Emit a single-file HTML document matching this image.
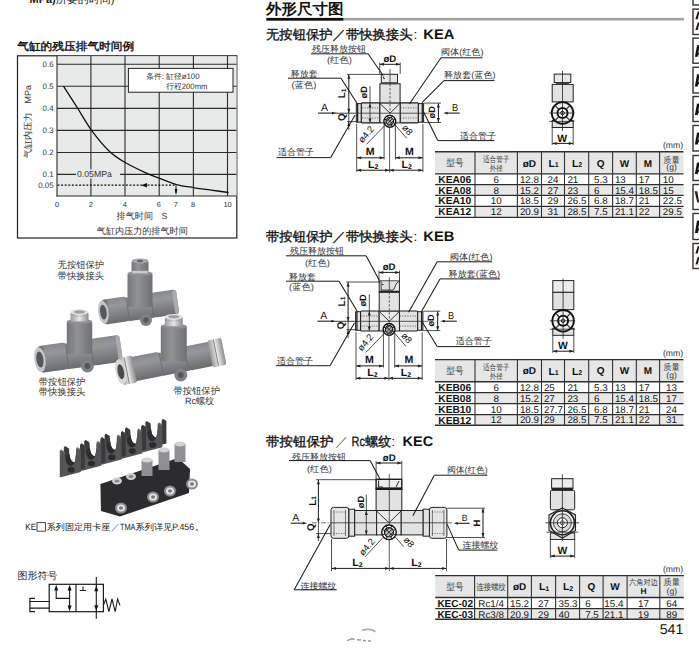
<!DOCTYPE html>
<html><head><meta charset="utf-8"><style>
html,body{margin:0;padding:0;background:#fff;}
body{width:699px;height:656px;overflow:hidden;position:relative;}
svg{position:absolute;left:0;top:0;font-family:"Liberation Sans", sans-serif;text-rendering:geometricPrecision;}
</style></head><body>
<svg width="699" height="656" viewBox="0 0 699 656">
<text x="29.5" y="2.7" font-size="11" fill="#222"><tspan font-weight="bold">MPa)</tspan>所要的时间)</text>
<text x="17.2" y="50.2" font-size="11" text-anchor="start" font-weight="bold" fill="#1a1a1a"  textLength="117" lengthAdjust="spacingAndGlyphs">气缸的残压排气时间例</text>
<rect x="17.5" y="55.8" width="219.3" height="182.2" fill="#fff" stroke="#222" stroke-width="1.2"/>
<rect x="57" y="56.3" width="179.6" height="139.7" fill="#e8eae9"/>
<line x1="57" y1="64.3" x2="236.5" y2="64.3" stroke="#2a2a2a" stroke-width="1.1" />
<line x1="57" y1="86.3" x2="236.5" y2="86.3" stroke="#2a2a2a" stroke-width="1.1" />
<line x1="57" y1="108.4" x2="236.5" y2="108.4" stroke="#2a2a2a" stroke-width="1.1" />
<line x1="57" y1="130.4" x2="236.5" y2="130.4" stroke="#2a2a2a" stroke-width="1.1" />
<line x1="57" y1="152.5" x2="236.5" y2="152.5" stroke="#2a2a2a" stroke-width="1.1" />
<line x1="57" y1="174.4" x2="236.5" y2="174.4" stroke="#2a2a2a" stroke-width="1.1" />
<line x1="90.9" y1="56" x2="90.9" y2="196" stroke="#2a2a2a" stroke-width="1.1" />
<line x1="125" y1="56" x2="125" y2="196" stroke="#2a2a2a" stroke-width="1.1" />
<line x1="159.2" y1="56" x2="159.2" y2="196" stroke="#2a2a2a" stroke-width="1.1" />
<line x1="193.4" y1="56" x2="193.4" y2="196" stroke="#2a2a2a" stroke-width="1.1" />
<line x1="227.5" y1="56" x2="227.5" y2="196" stroke="#2a2a2a" stroke-width="1.1" />
<line x1="57" y1="56" x2="57" y2="196.5" stroke="#2a2a2a" stroke-width="1.1" />
<line x1="56.5" y1="196" x2="236.5" y2="196" stroke="#2a2a2a" stroke-width="1.1" />
<text x="53.6" y="67.1" font-size="7.9" text-anchor="end" font-weight="normal" fill="#333" >0.6</text>
<text x="53.6" y="89.1" font-size="7.9" text-anchor="end" font-weight="normal" fill="#333" >0.5</text>
<text x="53.6" y="111.2" font-size="7.9" text-anchor="end" font-weight="normal" fill="#333" >0.4</text>
<text x="53.6" y="133.20000000000002" font-size="7.9" text-anchor="end" font-weight="normal" fill="#333" >0.3</text>
<text x="53.6" y="155.3" font-size="7.9" text-anchor="end" font-weight="normal" fill="#333" >0.2</text>
<text x="53.6" y="177.20000000000002" font-size="7.9" text-anchor="end" font-weight="normal" fill="#333" >0.1</text>
<text x="53.6" y="187.8" font-size="7.9" text-anchor="end" font-weight="normal" fill="#333" >0.05</text>
<text x="57" y="207.2" font-size="7.4" text-anchor="middle" font-weight="normal" fill="#333" >0</text>
<text x="90.8" y="207.2" font-size="7.4" text-anchor="middle" font-weight="normal" fill="#333" >2</text>
<text x="124.8" y="207.2" font-size="7.4" text-anchor="middle" font-weight="normal" fill="#333" >4</text>
<text x="158.8" y="207.2" font-size="7.4" text-anchor="middle" font-weight="normal" fill="#333" >6</text>
<text x="175.8" y="207.2" font-size="7.4" text-anchor="middle" font-weight="normal" fill="#333" >7</text>
<text x="193" y="207.2" font-size="7.4" text-anchor="middle" font-weight="normal" fill="#333" >8</text>
<text x="227.5" y="207.2" font-size="7.4" text-anchor="middle" font-weight="normal" fill="#333" >10</text>
<text x="116.6" y="219" font-size="9.1" text-anchor="start" font-weight="normal" fill="#333" >排气时间</text>
<text x="161.6" y="219" font-size="8.8" text-anchor="start" font-weight="normal" fill="#333" >S</text>
<text x="96.8" y="234.2" font-size="9.1" text-anchor="start" font-weight="normal" fill="#333" >气缸内压力的排气时间</text>
<text transform="translate(31.4,158.3) rotate(-90) scale(0.5)" font-size="18.4" fill="#333">气缸内压力<tspan dx="17.5" font-size="18">MPa</tspan></text>
<rect x="76" y="169.5" width="44" height="9" fill="#e8eae9"/>
<text x="77" y="177.4" font-size="8.7" text-anchor="start" font-weight="normal" fill="#333" >0.05MPa</text>
<line x1="57.5" y1="185.2" x2="176" y2="185.2" stroke="#111" stroke-width="1.3" stroke-dasharray="2 1.6"/>
<path d="M141.3 185.2 L147 183 L147 187.4 Z" fill="#111"/>
<line x1="176" y1="185.5" x2="176" y2="193" stroke="#111" stroke-width="1" />
<path d="M176 195.2 L174.6 189 L177.4 189 Z" fill="#111"/>
<path d="M63.5 86.2 C65.8 89.8 72.9 100.7 77.5 108 C82.1 115.3 86.0 122.7 91.2 129.9 C96.5 137.1 103.4 145.6 109 151 C114.6 156.4 118.7 158.7 124.8 162.3 C130.9 166.0 140.1 170.3 145.8 172.9 C151.5 175.5 153.9 176.2 159 178.1 C164.1 180.0 170.8 183.0 176.5 184.6 C182.2 186.2 187.8 186.7 193.5 187.6 C199.2 188.5 205.2 189.3 211 190.1 C216.8 190.9 225.7 192.1 228.6 192.5" fill="none" stroke="#111" stroke-width="1.3"/>
<rect x="128.4" y="68.4" width="104.6" height="23.8" fill="#fff" stroke="#222" stroke-width="1"/>
<text x="146.2" y="79" font-size="7.9" text-anchor="start" font-weight="normal" fill="#333"  textLength="53.3" lengthAdjust="spacingAndGlyphs">条件: 缸径ø100</text>
<text x="166.3" y="88.5" font-size="7.9" text-anchor="start" font-weight="normal" fill="#333"  textLength="41.2" lengthAdjust="spacingAndGlyphs">行程200mm</text>
<defs>
<linearGradient id="gv" x1="0" x2="1" y1="0" y2="0"><stop offset="0" stop-color="#75777b"/><stop offset="0.4" stop-color="#909296"/><stop offset="1" stop-color="#6e7074"/></linearGradient>
<linearGradient id="gh" x1="0" x2="0" y1="0" y2="1"><stop offset="0" stop-color="#86888c"/><stop offset="0.3" stop-color="#95979b"/><stop offset="1" stop-color="#6a6c70"/></linearGradient>
<linearGradient id="gs" x1="0" x2="1" y1="0" y2="0"><stop offset="0" stop-color="#9a9a9a"/><stop offset="0.5" stop-color="#e8e8e8"/><stop offset="1" stop-color="#8a8a8a"/></linearGradient>
</defs>
<g transform="translate(140,307) rotate(-8)">
<rect x="-13.5" y="-11.0" width="27" height="23.5" fill="url(#gh)"/>
<rect x="-38" y="-12.5" width="26.0" height="25.0" rx="3.5" fill="url(#gh)"/>
<rect x="12.0" y="-12.5" width="26.0" height="25.0" rx="3.5" fill="url(#gh)"/>
<line x1="-12.3" y1="-11.5" x2="-12.3" y2="11.5" stroke="#6a6c70" stroke-width="0.8"/>
<line x1="12.3" y1="-11.5" x2="12.3" y2="11.5" stroke="#6a6c70" stroke-width="0.8"/>
<rect x="-37" y="-12.0" width="5" height="24.0" rx="2" fill="#6d6f73"/>
<ellipse cx="-37" cy="0" rx="5.25" ry="11.5" fill="#c4c6c9"/>
<ellipse cx="-37" cy="0" rx="3.25" ry="7.5" fill="#55575b"/>
<rect x="34" y="-12.0" width="4" height="24.0" rx="1.8" fill="#a9abae"/>
</g>
<rect x="127.5" y="273" width="25" height="34" rx="2" fill="url(#gv)"/>
<ellipse cx="140" cy="273.5" rx="12.5" ry="2.5" fill="#8e9094"/>
<rect x="131.5" y="261" width="17" height="12" rx="1.5" fill="url(#gv)"/>
<ellipse cx="140" cy="261" rx="8.5" ry="2.5" fill="#a3a5a8"/>
<ellipse cx="140" cy="261" rx="3" ry="1.2" fill="#666"/>
<rect x="132" y="270.8" width="16" height="2.6" fill="#c9c9c9"/>
<circle cx="146" cy="320" r="6" fill="#7e8084"/>
<circle cx="146" cy="320" r="2.7" fill="#55575b"/>
<g transform="translate(79.5,354) rotate(-8)">
<rect x="-13.75" y="-12.0" width="27.5" height="25.5" fill="url(#gh)"/>
<rect x="-41" y="-13.5" width="28.75" height="27.0" rx="3.5" fill="url(#gh)"/>
<rect x="12.25" y="-13.5" width="29.75" height="27.0" rx="3.5" fill="url(#gh)"/>
<line x1="-12.55" y1="-12.5" x2="-12.55" y2="12.5" stroke="#6a6c70" stroke-width="0.8"/>
<line x1="12.55" y1="-12.5" x2="12.55" y2="12.5" stroke="#6a6c70" stroke-width="0.8"/>
<rect x="-40" y="-13.0" width="5" height="26.0" rx="2" fill="#6d6f73"/>
<ellipse cx="-40" cy="0" rx="5.67" ry="12.5" fill="#c4c6c9"/>
<ellipse cx="-40" cy="0" rx="3.5100000000000002" ry="8.1" fill="#55575b"/>
<rect x="38" y="-13.0" width="4" height="26.0" rx="1.8" fill="#a9abae"/>
</g>
<rect x="66.75" y="321" width="25.5" height="33" rx="2" fill="url(#gv)"/>
<ellipse cx="79.5" cy="321.5" rx="12.75" ry="2.5" fill="#8e9094"/>
<rect x="70.5" y="312" width="18" height="9.5" rx="2" fill="url(#gs)"/>
<ellipse cx="79.5" cy="312" rx="9" ry="2.8" fill="#e4e4e4"/>
<ellipse cx="79.5" cy="312" rx="5.5" ry="1.7" fill="#a0a0a0"/>
<line x1="73.5" y1="316" x2="85.5" y2="316" stroke="#888" stroke-width="0.7" stroke-dasharray="1 1"/>
<circle cx="87.5" cy="366" r="6.5" fill="#7e8084"/>
<circle cx="87.5" cy="366" r="2.9250000000000003" fill="#55575b"/>
<g transform="translate(173.8,361.2) rotate(-11.2)">
<rect x="-14.0" y="-10.8" width="28" height="23.1" fill="url(#gh)"/>
<rect x="-51" y="-12.3" width="38.5" height="24.6" rx="3.5" fill="url(#gh)"/>
<rect x="12.5" y="-12.3" width="36.5" height="24.6" rx="3.5" fill="url(#gh)"/>
<line x1="-12.8" y1="-11.3" x2="-12.8" y2="11.3" stroke="#6a6c70" stroke-width="0.8"/>
<line x1="12.8" y1="-11.3" x2="12.8" y2="11.3" stroke="#6a6c70" stroke-width="0.8"/>
<rect x="-54" y="-13.8" width="14" height="27.6" rx="2" fill="url(#gs)"/>
<line x1="-48" y1="-13.3" x2="-48" y2="13.3" stroke="#777" stroke-width="0.8"/>
<ellipse cx="-54" cy="0" rx="5.166" ry="12.8" fill="#d8d8d8"/>
<ellipse cx="-54" cy="0" rx="3.1980000000000004" ry="7.626" fill="#4a4a4a"/>
<rect x="37" y="-13.8" width="14" height="27.6" rx="2" fill="url(#gs)"/>
<line x1="43" y1="-13.3" x2="43" y2="13.3" stroke="#777" stroke-width="0.8"/>
</g>
<rect x="160.8" y="325.7" width="26" height="35.5" rx="2" fill="url(#gv)"/>
<ellipse cx="173.8" cy="326.2" rx="13.0" ry="2.5" fill="#8e9094"/>
<rect x="164.8" y="316.7" width="18" height="9.5" rx="2" fill="url(#gs)"/>
<ellipse cx="173.8" cy="316.7" rx="9" ry="2.8" fill="#e4e4e4"/>
<ellipse cx="173.8" cy="316.7" rx="5.5" ry="1.7" fill="#a0a0a0"/>
<line x1="167.8" y1="320.7" x2="179.8" y2="320.7" stroke="#888" stroke-width="0.7" stroke-dasharray="1 1"/>
<circle cx="180.8" cy="375.0" r="6.5" fill="#7e8084"/>
<circle cx="180.8" cy="375.0" r="2.9250000000000003" fill="#55575b"/>
<text x="57.6" y="268.2" font-size="9.4" text-anchor="start" font-weight="normal" fill="#333"  textLength="46.6" lengthAdjust="spacingAndGlyphs">无按钮保护</text>
<text x="57.6" y="279.3" font-size="9.4" text-anchor="start" font-weight="normal" fill="#333"  textLength="46.6" lengthAdjust="spacingAndGlyphs">带快换接头</text>
<text x="38.8" y="385.4" font-size="9.4" text-anchor="start" font-weight="normal" fill="#333"  textLength="46.6" lengthAdjust="spacingAndGlyphs">带按钮保护</text>
<text x="38.8" y="394.8" font-size="9.4" text-anchor="start" font-weight="normal" fill="#333"  textLength="46.6" lengthAdjust="spacingAndGlyphs">带快换接头</text>
<text x="173.4" y="393.6" font-size="9.4" text-anchor="start" font-weight="normal" fill="#333"  textLength="46.6" lengthAdjust="spacingAndGlyphs">带按钮保护</text>
<text x="185" y="403.6" font-size="9.1" text-anchor="start" font-weight="normal" fill="#333" >Rc螺纹</text>
<path d="M141.39999999999998 452.7 L141.39999999999998 426.2 L142.59999999999997 424.7 L146.59999999999997 427.2 L146.99999999999997 432.7 Q147.89999999999998 441.7 152.89999999999998 441.2 Q156.89999999999998 440.2 157.39999999999998 430.7 L157.7 424.2 L158.99999999999997 422.4 L162.39999999999998 424.7 L162.39999999999998 447.2 Z" transform="translate(4,-3.6)" fill="#3a3a3c"/>
<path d="M146.99999999999997 432.7 Q147.89999999999998 441.7 152.89999999999998 441.2 Q156.89999999999998 440.2 157.39999999999998 430.7 L161.39999999999998 427.09999999999997 Q160.89999999999998 436.7 156.89999999999998 437.7 Q151.89999999999998 438.09999999999997 150.99999999999997 429.09999999999997 Z" fill="#2c2c2e"/>
<path d="M141.39999999999998 452.7 L141.39999999999998 426.2 L142.59999999999997 424.7 L146.59999999999997 427.2 L146.99999999999997 432.7 Q147.89999999999998 441.7 152.89999999999998 441.2 Q156.89999999999998 440.2 157.39999999999998 430.7 L157.7 424.2 L158.99999999999997 422.4 L162.39999999999998 424.7 L162.39999999999998 447.2 Z" fill="#555557"/>
<ellipse cx="152.7" cy="444.9" rx="3.6" ry="2.8" fill="#2a2a2c"/>
<path d="M141.99999999999997 425.7 L146.39999999999998 428.09999999999997 M158.2 423.2 L161.89999999999998 425.4" stroke="#77777a" stroke-width="1"/>
<path d="M121.0 458.9 L121.0 432.4 L122.2 430.9 L126.2 433.4 L126.6 438.9 Q127.5 447.9 132.5 447.4 Q136.5 446.4 137.0 436.9 L137.3 430.4 L138.6 428.59999999999997 L142.0 430.9 L142.0 453.4 Z" transform="translate(4,-3.6)" fill="#3a3a3c"/>
<path d="M126.6 438.9 Q127.5 447.9 132.5 447.4 Q136.5 446.4 137.0 436.9 L141.0 433.29999999999995 Q140.5 442.9 136.5 443.9 Q131.5 444.29999999999995 130.6 435.29999999999995 Z" fill="#2c2c2e"/>
<path d="M121.0 458.9 L121.0 432.4 L122.2 430.9 L126.2 433.4 L126.6 438.9 Q127.5 447.9 132.5 447.4 Q136.5 446.4 137.0 436.9 L137.3 430.4 L138.6 428.59999999999997 L142.0 430.9 L142.0 453.4 Z" fill="#555557"/>
<ellipse cx="132.3" cy="451.09999999999997" rx="3.6" ry="2.8" fill="#2a2a2c"/>
<path d="M121.6 431.9 L126.0 434.29999999999995 M137.8 429.4 L141.5 431.59999999999997" stroke="#77777a" stroke-width="1"/>
<path d="M100.6 465.1 L100.6 438.6 L101.8 437.1 L105.8 439.6 L106.19999999999999 445.1 Q107.1 454.1 112.1 453.6 Q116.1 452.6 116.6 443.1 L116.89999999999999 436.6 L118.19999999999999 434.8 L121.6 437.1 L121.6 459.6 Z" transform="translate(4,-3.6)" fill="#3a3a3c"/>
<path d="M106.19999999999999 445.1 Q107.1 454.1 112.1 453.6 Q116.1 452.6 116.6 443.1 L120.6 439.5 Q120.1 449.1 116.1 450.1 Q111.1 450.5 110.19999999999999 441.5 Z" fill="#2c2c2e"/>
<path d="M100.6 465.1 L100.6 438.6 L101.8 437.1 L105.8 439.6 L106.19999999999999 445.1 Q107.1 454.1 112.1 453.6 Q116.1 452.6 116.6 443.1 L116.89999999999999 436.6 L118.19999999999999 434.8 L121.6 437.1 L121.6 459.6 Z" fill="#555557"/>
<ellipse cx="111.89999999999999" cy="457.3" rx="3.6" ry="2.8" fill="#2a2a2c"/>
<path d="M101.19999999999999 438.1 L105.6 440.5 M117.39999999999999 435.6 L121.1 437.8" stroke="#77777a" stroke-width="1"/>
<path d="M80.19999999999999 471.3 L80.19999999999999 444.8 L81.39999999999999 443.3 L85.39999999999999 445.8 L85.79999999999998 451.3 Q86.69999999999999 460.3 91.69999999999999 459.8 Q95.69999999999999 458.8 96.19999999999999 449.3 L96.49999999999999 442.8 L97.79999999999998 441.0 L101.19999999999999 443.3 L101.19999999999999 465.8 Z" transform="translate(4,-3.6)" fill="#3a3a3c"/>
<path d="M85.79999999999998 451.3 Q86.69999999999999 460.3 91.69999999999999 459.8 Q95.69999999999999 458.8 96.19999999999999 449.3 L100.19999999999999 445.7 Q99.69999999999999 455.3 95.69999999999999 456.3 Q90.69999999999999 456.7 89.79999999999998 447.7 Z" fill="#2c2c2e"/>
<path d="M80.19999999999999 471.3 L80.19999999999999 444.8 L81.39999999999999 443.3 L85.39999999999999 445.8 L85.79999999999998 451.3 Q86.69999999999999 460.3 91.69999999999999 459.8 Q95.69999999999999 458.8 96.19999999999999 449.3 L96.49999999999999 442.8 L97.79999999999998 441.0 L101.19999999999999 443.3 L101.19999999999999 465.8 Z" fill="#555557"/>
<ellipse cx="91.49999999999999" cy="463.5" rx="3.6" ry="2.8" fill="#2a2a2c"/>
<path d="M80.79999999999998 444.3 L85.19999999999999 446.7 M96.99999999999999 441.8 L100.69999999999999 444.0" stroke="#77777a" stroke-width="1"/>
<path d="M59.8 477.5 L59.8 451.0 L61.0 449.5 L65.0 452.0 L65.39999999999999 457.5 Q66.3 466.5 71.3 466.0 Q75.3 465.0 75.8 455.5 L76.1 449.0 L77.4 447.2 L80.8 449.5 L80.8 472.0 Z" transform="translate(4,-3.6)" fill="#3a3a3c"/>
<path d="M65.39999999999999 457.5 Q66.3 466.5 71.3 466.0 Q75.3 465.0 75.8 455.5 L79.8 451.9 Q79.3 461.5 75.3 462.5 Q70.3 462.9 69.39999999999999 453.9 Z" fill="#2c2c2e"/>
<path d="M59.8 477.5 L59.8 451.0 L61.0 449.5 L65.0 452.0 L65.39999999999999 457.5 Q66.3 466.5 71.3 466.0 Q75.3 465.0 75.8 455.5 L76.1 449.0 L77.4 447.2 L80.8 449.5 L80.8 472.0 Z" fill="#555557"/>
<ellipse cx="71.1" cy="469.7" rx="3.6" ry="2.8" fill="#2a2a2c"/>
<path d="M60.4 450.5 L64.8 452.9 M76.6 448.0 L80.3 450.2" stroke="#77777a" stroke-width="1"/>
<path d="M100.4 484 L178 458 L190 469 L189 493 L120 516.5 L101 511 Z" fill="#2c2c2e"/>
<ellipse cx="117" cy="481" rx="5" ry="3.5" fill="#cfd0d2"/><ellipse cx="117" cy="481" rx="2.5" ry="1.6" fill="#888"/>
<ellipse cx="131" cy="476.5" rx="5" ry="3.5" fill="#cfd0d2"/><ellipse cx="131" cy="476.5" rx="2.5" ry="1.6" fill="#888"/>
<rect x="141.5" y="460" width="11" height="16" fill="#8e9094"/><ellipse cx="147" cy="460" rx="5.5" ry="2.5" fill="#d2d3d5"/>
<rect x="158.5" y="450" width="11" height="20" fill="#8e9094"/><ellipse cx="164" cy="450" rx="5.5" ry="2.5" fill="#d2d3d5"/>
<rect x="174.5" y="444" width="11" height="18" fill="#8e9094"/><ellipse cx="180" cy="444" rx="5.5" ry="2.5" fill="#d2d3d5"/>
<ellipse cx="121" cy="508" rx="6" ry="5.5" fill="#8a8c90"/><ellipse cx="121" cy="508" rx="4" ry="3.6" fill="#e4e4e4"/><ellipse cx="121" cy="508" rx="2" ry="1.8" fill="#777"/>
<ellipse cx="153" cy="497" rx="6" ry="5.5" fill="#8a8c90"/><ellipse cx="153" cy="497" rx="4" ry="3.6" fill="#e4e4e4"/><ellipse cx="153" cy="497" rx="2" ry="1.8" fill="#777"/>
<ellipse cx="170" cy="491" rx="6" ry="5.5" fill="#8a8c90"/><ellipse cx="170" cy="491" rx="4" ry="3.6" fill="#e4e4e4"/><ellipse cx="170" cy="491" rx="2" ry="1.8" fill="#777"/>
<ellipse cx="192" cy="484" rx="6" ry="5.5" fill="#8a8c90"/><ellipse cx="192" cy="484" rx="4" ry="3.6" fill="#e4e4e4"/><ellipse cx="192" cy="484" rx="2" ry="1.8" fill="#777"/>
<text x="25.2" y="530.4" font-size="9.2" text-anchor="start" font-weight="normal" fill="#222"  textLength="11" lengthAdjust="spacingAndGlyphs">KE</text>
<rect x="37" y="522.6" width="8.4" height="8.6" fill="none" stroke="#333" stroke-width="0.9"/>
<text x="46.8" y="530.4" font-size="9" text-anchor="start" font-weight="normal" fill="#222"  textLength="63.5" lengthAdjust="spacingAndGlyphs">系列固定用卡座</text>
<text x="111" y="530.4" font-size="9" text-anchor="start" font-weight="normal" fill="#444" >／</text>
<text x="120" y="530.4" font-size="9.2" text-anchor="start" font-weight="normal" fill="#222"  textLength="15.5" lengthAdjust="spacingAndGlyphs">TMA</text>
<text x="135.6" y="530.4" font-size="9" text-anchor="start" font-weight="normal" fill="#222"  textLength="36.8" lengthAdjust="spacingAndGlyphs">系列详见</text>
<text x="172.3" y="530.4" font-size="9.2" text-anchor="start" font-weight="normal" fill="#222"  textLength="21.8" lengthAdjust="spacingAndGlyphs">P.456</text>
<text x="195" y="530.4" font-size="9" text-anchor="start" font-weight="normal" fill="#222" >。</text>
<text x="17.6" y="579.4" font-size="10" text-anchor="start" font-weight="normal" fill="#222"  textLength="40" lengthAdjust="spacingAndGlyphs">图形符号</text>
<rect x="49.2" y="584.3" width="54.2" height="27.4" stroke="#1a1a1a" stroke-width="1.2" fill="none"/>
<line x1="76" y1="584.3" x2="76" y2="611.7" stroke="#1a1a1a" stroke-width="1.2" />
<path d="M35 598.3 L29.9 598.3 L29.9 611.7 L35 611.7" stroke="#1a1a1a" stroke-width="1.2" fill="none"/>
<path d="M49.2 601.5 L29.9 601.5 M29.9 608.2 L49.2 608.2" stroke="#1a1a1a" stroke-width="1.2" fill="none"/>
<line x1="69.6" y1="589" x2="69.6" y2="607" stroke="#1a1a1a" stroke-width="1.1" />
<path d="M69.6 584.8 L67.6 590.6 L71.6 590.6 Z M69.6 611.2 L67.6 605.4 L71.6 605.4 Z" fill="#111"/>
<path d="M56.2 589 L56.2 598.4 L69.6 598.4" stroke="#1a1a1a" stroke-width="1.1" fill="none"/>
<path d="M56.2 584.8 L54.2 590.6 L58.2 590.6 Z" fill="#111"/>
<path d="M79.8 590.5 L86.1 590.5 M83 590.5 L83 586.5" stroke="#1a1a1a" stroke-width="1.1" fill="none"/>
<line x1="96.3" y1="577" x2="96.3" y2="618.8" stroke="#1a1a1a" stroke-width="1.1" />
<path d="M96.3 585.4 L94.3 591.2 L98.3 591.2 Z M96.3 611 L94.3 605.2 L98.3 605.2 Z" fill="#111"/>
<path d="M103.4 605.4 L105.8 599 L108.9 611.7 L112 599 L115.2 611.7 L117.6 599 L120 605.4" stroke="#1a1a1a" stroke-width="1.1" fill="none"/>
<text x="266" y="14.4" font-size="15" text-anchor="start" font-weight="bold" fill="#111"  textLength="77.5" lengthAdjust="spacingAndGlyphs">外形尺寸图</text>
<rect x="343" y="17.9" width="341" height="2.6" fill="#a3a3a3"/>
<rect x="266.3" y="17.9" width="77" height="2.8" fill="#111"/>
<rect x="693" y="-4.5" width="12" height="9.5" fill="#fff" stroke="#333" stroke-width="1.4"/>
<rect x="693" y="9.1" width="12" height="25.4" fill="#fff" stroke="#333" stroke-width="1.4"/>
<polygon points="695.4,19.2 697.7,19.2 699.5,11.6 697.8,11.6" fill="#221408"/>
<polygon points="695.4,30.0 697.7,30.0 699.5,22.6 697.8,22.6" fill="#221408"/>
<rect x="693" y="38.1" width="12" height="25.1" fill="#fff" stroke="#333" stroke-width="1.4"/>
<polygon points="694.9,56.7 697.9,56.7 699.3,45.4 697,45.4" fill="#111"/>
<rect x="697" y="45.4" width="3" height="1.8" fill="#111"/>
<rect x="698" y="52.75" width="2" height="1.8" fill="#111"/>
<rect x="693" y="67.3" width="12" height="25.700000000000003" fill="#fff" stroke="#333" stroke-width="1.4"/>
<polygon points="694.9,86.5 697.9,86.5 699.3,74.6 697,74.6" fill="#111"/>
<rect x="697" y="74.6" width="3" height="1.8" fill="#111"/>
<rect x="698" y="82.24999999999999" width="2" height="1.8" fill="#111"/>
<rect x="693" y="96.5" width="12" height="25" fill="#fff" stroke="#333" stroke-width="1.4"/>
<polygon points="694.9,115 697.9,115 699.3,103.8 697,103.8" fill="#111"/>
<rect x="697" y="103.8" width="3" height="1.8" fill="#111"/>
<rect x="698" y="111.1" width="2" height="1.8" fill="#111"/>
<rect x="693" y="125.5" width="12" height="25.5" fill="#fff" stroke="#333" stroke-width="1.4"/>
<polygon points="694.9,144.5 697.9,144.5 699.3,132.8 697,132.8" fill="#111"/>
<rect x="697" y="132.8" width="3" height="1.8" fill="#111"/>
<rect x="698" y="140.35" width="2" height="1.8" fill="#111"/>
<rect x="693" y="155.5" width="12" height="25" fill="#fff" stroke="#333" stroke-width="1.4"/>
<polygon points="694.9,174 697.9,174 699.3,162.8 697,162.8" fill="#111"/>
<rect x="697" y="162.8" width="3" height="1.8" fill="#111"/>
<rect x="698" y="170.1" width="2" height="1.8" fill="#111"/>
<rect x="693" y="184.5" width="12" height="25" fill="#fff" stroke="#333" stroke-width="1.4"/>
<polygon points="694.6,191.2 697.2,191.2 699.2,202.5 697.4,202.5" fill="#2a1a0e"/>
<rect x="693" y="213.5" width="12" height="26" fill="#fff" stroke="#333" stroke-width="1.4"/>
<polygon points="694.9,233 697.9,233 699.3,220.8 697,220.8" fill="#111"/>
<rect x="697" y="220.8" width="3" height="1.8" fill="#111"/>
<rect x="698" y="228.6" width="2" height="1.8" fill="#111"/>
<rect x="693" y="243.5" width="12" height="25" fill="#fff" stroke="#333" stroke-width="1.4"/>
<polygon points="695.4,253.6 697.7,253.6 699.5,246 697.8,246" fill="#221408"/>
<polygon points="695.4,264.4 697.7,264.4 699.5,257 697.8,257" fill="#221408"/>
<text x="266" y="39.2" font-size="13" text-anchor="start" font-weight="500" fill="#111" stroke="#111" stroke-width="0.35" textLength="146.5" lengthAdjust="spacingAndGlyphs">无按钮保护／带快换接头</text>
<text x="413.6" y="39.2" font-size="13.5" text-anchor="start" font-weight="normal" fill="#111" >:</text>
<text x="423.3" y="39.2" font-size="14" text-anchor="start" font-weight="bold" fill="#111"  textLength="31" lengthAdjust="spacingAndGlyphs">KEA</text>
<text x="266" y="240.6" font-size="13" text-anchor="start" font-weight="500" fill="#111" stroke="#111" stroke-width="0.35" textLength="146.5" lengthAdjust="spacingAndGlyphs">带按钮保护／带快换接头</text>
<text x="413.6" y="240.6" font-size="13.5" text-anchor="start" font-weight="normal" fill="#111" >:</text>
<text x="423.3" y="240.6" font-size="14" text-anchor="start" font-weight="bold" fill="#111"  textLength="31" lengthAdjust="spacingAndGlyphs">KEB</text>
<text x="266" y="445.6" font-size="13" text-anchor="start" font-weight="500" fill="#111" stroke="#111" stroke-width="0.35" textLength="67.5" lengthAdjust="spacingAndGlyphs">带按钮保护</text>
<text x="335.2" y="445.6" font-size="13" text-anchor="start" font-weight="normal" fill="#555" >／</text>
<text x="351.6" y="445.6" font-size="13.5" text-anchor="start" font-weight="normal" fill="#111" stroke="#111" stroke-width="0.3" textLength="13.4" lengthAdjust="spacingAndGlyphs">Rc</text>
<text x="365.2" y="445.6" font-size="13" text-anchor="start" font-weight="500" fill="#111" stroke="#111" stroke-width="0.35" textLength="26" lengthAdjust="spacingAndGlyphs">螺纹</text>
<text x="391.2" y="445.6" font-size="13.5" text-anchor="start" font-weight="normal" fill="#111" >:</text>
<text x="402.6" y="445.6" font-size="14" text-anchor="start" font-weight="bold" fill="#111"  textLength="30.5" lengthAdjust="spacingAndGlyphs">KEC</text>
<path d="M362 630.3 Q367 628.8 372 629.8 L375.5 631.8" fill="none" stroke="#888" stroke-width="1.6" opacity="0.7"/>
<path d="M347 640.6 L352 638.8 L354.5 639.5 M357 639.8 L361 640 M363 640.5 L366 640.8 M368 641 L371 641" fill="none" stroke="#777" stroke-width="1.5" opacity="0.75"/>
<text x="683.4" y="634.4" font-size="14.2" text-anchor="end" font-weight="normal" fill="#111" >541</text>
<rect x="435" y="151.7" width="248.5" height="22.200000000000017" fill="#e6e6e6"/>
<rect x="475" y="184.6" width="208.5" height="10.800000000000011" fill="#e8e8e8"/>
<rect x="475" y="206.3" width="208.5" height="11.099999999999994" fill="#e8e8e8"/>
<line x1="435" y1="151.7" x2="683.5" y2="151.7" stroke="#2e2e2e" stroke-width="1.4" />
<line x1="435" y1="173.9" x2="683.5" y2="173.9" stroke="#2e2e2e" stroke-width="1.4" />
<line x1="435" y1="184.6" x2="683.5" y2="184.6" stroke="#2e2e2e" stroke-width="1.25" />
<line x1="435" y1="195.4" x2="683.5" y2="195.4" stroke="#2e2e2e" stroke-width="1.25" />
<line x1="435" y1="206.3" x2="683.5" y2="206.3" stroke="#2e2e2e" stroke-width="1.25" />
<line x1="435" y1="217.4" x2="683.5" y2="217.4" stroke="#2e2e2e" stroke-width="1.4" />
<line x1="475" y1="151.7" x2="475" y2="217.4" stroke="#333" stroke-width="1.1" />
<line x1="517.4" y1="151.7" x2="517.4" y2="217.4" stroke="#333" stroke-width="1.1" />
<line x1="541.5" y1="151.7" x2="541.5" y2="217.4" stroke="#333" stroke-width="1.1" />
<line x1="564.5" y1="151.7" x2="564.5" y2="217.4" stroke="#333" stroke-width="1.1" />
<line x1="588.7" y1="151.7" x2="588.7" y2="217.4" stroke="#333" stroke-width="1.1" />
<line x1="612.6" y1="151.7" x2="612.6" y2="217.4" stroke="#333" stroke-width="1.1" />
<line x1="636.3" y1="151.7" x2="636.3" y2="217.4" stroke="#333" stroke-width="1.1" />
<line x1="659.6" y1="151.7" x2="659.6" y2="217.4" stroke="#333" stroke-width="1.1" />
<text x="455.0" y="166.20000000000002" font-size="9.5" text-anchor="middle" font-weight="normal" fill="#3a3a3a"  textLength="17.5" lengthAdjust="spacingAndGlyphs">型号</text>
<text x="496.2" y="162.10000000000002" font-size="8" text-anchor="middle" font-weight="normal" fill="#3a3a3a"  textLength="26.5" lengthAdjust="spacingAndGlyphs">适合管子</text><text x="496.2" y="170.70000000000002" font-size="8" text-anchor="middle" font-weight="normal" fill="#3a3a3a"  textLength="13" lengthAdjust="spacingAndGlyphs">外径</text>
<text x="529.45" y="166.5" font-size="10" text-anchor="middle" font-weight="bold" fill="#111" >øD</text>
<text x="548.4" y="166.70000000000002" font-size="10.3" font-weight="bold" fill="#111">L<tspan font-size="7" dy="0.6">1</tspan></text>
<text x="572.0" y="166.70000000000002" font-size="10.3" font-weight="bold" fill="#111">L<tspan font-size="7" dy="0.6">2</tspan></text>
<text x="600.6500000000001" y="166.5" font-size="10" text-anchor="middle" font-weight="bold" fill="#111" >Q</text>
<text x="624.45" y="166.5" font-size="10" text-anchor="middle" font-weight="bold" fill="#111" >W</text>
<text x="647.95" y="166.5" font-size="10" text-anchor="middle" font-weight="bold" fill="#111" >M</text>
<text x="671.55" y="162.5" font-size="8.6" text-anchor="middle" font-weight="normal" fill="#3a3a3a"  textLength="16.8" lengthAdjust="spacingAndGlyphs">质量</text><text x="671.55" y="170.4" font-size="8.6" text-anchor="middle" font-weight="normal" fill="#3a3a3a" >(g)</text>
<text x="438.3" y="182.85000000000002" font-size="10.2" text-anchor="start" font-weight="bold" fill="#111" >KEA06</text>
<text x="496.2" y="182.75" font-size="9.8" text-anchor="middle" font-weight="normal" fill="#151515" >6</text>
<text x="529.45" y="182.75" font-size="9.8" text-anchor="middle" font-weight="normal" fill="#151515" >12.8</text>
<text x="553.0" y="182.75" font-size="9.8" text-anchor="middle" font-weight="normal" fill="#151515" >24</text>
<text x="567.4" y="182.75" font-size="9.8" text-anchor="start" font-weight="normal" fill="#151515" >21</text>
<text x="594.0000000000001" y="182.75" font-size="9.8" text-anchor="start" font-weight="normal" fill="#151515" >5.3</text>
<text x="614.9000000000001" y="182.75" font-size="9.8" text-anchor="start" font-weight="normal" fill="#151515" >13</text>
<text x="638.8" y="182.75" font-size="9.8" text-anchor="start" font-weight="normal" fill="#151515" >17</text>
<text x="662.8000000000001" y="182.75" font-size="9.8" text-anchor="start" font-weight="normal" fill="#151515" >10</text>
<text x="438.3" y="193.60000000000002" font-size="10.2" text-anchor="start" font-weight="bold" fill="#111" >KEA08</text>
<text x="496.2" y="193.5" font-size="9.8" text-anchor="middle" font-weight="normal" fill="#151515" >8</text>
<text x="529.45" y="193.5" font-size="9.8" text-anchor="middle" font-weight="normal" fill="#151515" >15.2</text>
<text x="553.0" y="193.5" font-size="9.8" text-anchor="middle" font-weight="normal" fill="#151515" >27</text>
<text x="567.4" y="193.5" font-size="9.8" text-anchor="start" font-weight="normal" fill="#151515" >23</text>
<text x="594.0000000000001" y="193.5" font-size="9.8" text-anchor="start" font-weight="normal" fill="#151515" >6</text>
<text x="614.9000000000001" y="193.5" font-size="9.8" text-anchor="start" font-weight="normal" fill="#151515" >15.4</text>
<text x="638.8" y="193.5" font-size="9.8" text-anchor="start" font-weight="normal" fill="#151515" >18.5</text>
<text x="662.8000000000001" y="193.5" font-size="9.8" text-anchor="start" font-weight="normal" fill="#151515" >15</text>
<text x="438.3" y="204.45000000000005" font-size="10.2" text-anchor="start" font-weight="bold" fill="#111" >KEA10</text>
<text x="496.2" y="204.35000000000002" font-size="9.8" text-anchor="middle" font-weight="normal" fill="#151515" >10</text>
<text x="529.45" y="204.35000000000002" font-size="9.8" text-anchor="middle" font-weight="normal" fill="#151515" >18.5</text>
<text x="553.0" y="204.35000000000002" font-size="9.8" text-anchor="middle" font-weight="normal" fill="#151515" >29</text>
<text x="567.4" y="204.35000000000002" font-size="9.8" text-anchor="start" font-weight="normal" fill="#151515" >26.5</text>
<text x="594.0000000000001" y="204.35000000000002" font-size="9.8" text-anchor="start" font-weight="normal" fill="#151515" >6.8</text>
<text x="614.9000000000001" y="204.35000000000002" font-size="9.8" text-anchor="start" font-weight="normal" fill="#151515" >18.7</text>
<text x="638.8" y="204.35000000000002" font-size="9.8" text-anchor="start" font-weight="normal" fill="#151515" >21</text>
<text x="662.8000000000001" y="204.35000000000002" font-size="9.8" text-anchor="start" font-weight="normal" fill="#151515" >22.5</text>
<text x="438.3" y="215.45000000000005" font-size="10.2" text-anchor="start" font-weight="bold" fill="#111" >KEA12</text>
<text x="496.2" y="215.35000000000002" font-size="9.8" text-anchor="middle" font-weight="normal" fill="#151515" >12</text>
<text x="529.45" y="215.35000000000002" font-size="9.8" text-anchor="middle" font-weight="normal" fill="#151515" >20.9</text>
<text x="553.0" y="215.35000000000002" font-size="9.8" text-anchor="middle" font-weight="normal" fill="#151515" >31</text>
<text x="567.4" y="215.35000000000002" font-size="9.8" text-anchor="start" font-weight="normal" fill="#151515" >28.5</text>
<text x="594.0000000000001" y="215.35000000000002" font-size="9.8" text-anchor="start" font-weight="normal" fill="#151515" >7.5</text>
<text x="614.9000000000001" y="215.35000000000002" font-size="9.8" text-anchor="start" font-weight="normal" fill="#151515" >21.1</text>
<text x="638.8" y="215.35000000000002" font-size="9.8" text-anchor="start" font-weight="normal" fill="#151515" >22</text>
<text x="662.8000000000001" y="215.35000000000002" font-size="9.8" text-anchor="start" font-weight="normal" fill="#151515" >29.5</text>
<text x="683" y="148.3" font-size="8.6" text-anchor="end" font-weight="normal" fill="#333" >(mm)</text>
<rect x="435" y="359.6" width="248.5" height="22.099999999999966" fill="#e6e6e6"/>
<rect x="475" y="392.6" width="208.5" height="11.0" fill="#e8e8e8"/>
<rect x="475" y="414.6" width="208.5" height="10.699999999999989" fill="#e8e8e8"/>
<line x1="435" y1="359.6" x2="683.5" y2="359.6" stroke="#2e2e2e" stroke-width="1.4" />
<line x1="435" y1="381.7" x2="683.5" y2="381.7" stroke="#2e2e2e" stroke-width="1.4" />
<line x1="435" y1="392.6" x2="683.5" y2="392.6" stroke="#2e2e2e" stroke-width="1.25" />
<line x1="435" y1="403.6" x2="683.5" y2="403.6" stroke="#2e2e2e" stroke-width="1.25" />
<line x1="435" y1="414.6" x2="683.5" y2="414.6" stroke="#2e2e2e" stroke-width="1.25" />
<line x1="435" y1="425.3" x2="683.5" y2="425.3" stroke="#2e2e2e" stroke-width="1.4" />
<line x1="475" y1="359.6" x2="475" y2="425.3" stroke="#333" stroke-width="1.1" />
<line x1="517.4" y1="359.6" x2="517.4" y2="425.3" stroke="#333" stroke-width="1.1" />
<line x1="541.5" y1="359.6" x2="541.5" y2="425.3" stroke="#333" stroke-width="1.1" />
<line x1="564.5" y1="359.6" x2="564.5" y2="425.3" stroke="#333" stroke-width="1.1" />
<line x1="588.7" y1="359.6" x2="588.7" y2="425.3" stroke="#333" stroke-width="1.1" />
<line x1="612.6" y1="359.6" x2="612.6" y2="425.3" stroke="#333" stroke-width="1.1" />
<line x1="636.3" y1="359.6" x2="636.3" y2="425.3" stroke="#333" stroke-width="1.1" />
<line x1="659.6" y1="359.6" x2="659.6" y2="425.3" stroke="#333" stroke-width="1.1" />
<text x="455.0" y="374.04999999999995" font-size="9.5" text-anchor="middle" font-weight="normal" fill="#3a3a3a"  textLength="17.5" lengthAdjust="spacingAndGlyphs">型号</text>
<text x="496.2" y="369.95" font-size="8" text-anchor="middle" font-weight="normal" fill="#3a3a3a"  textLength="26.5" lengthAdjust="spacingAndGlyphs">适合管子</text><text x="496.2" y="378.54999999999995" font-size="8" text-anchor="middle" font-weight="normal" fill="#3a3a3a"  textLength="13" lengthAdjust="spacingAndGlyphs">外径</text>
<text x="529.45" y="374.34999999999997" font-size="10" text-anchor="middle" font-weight="bold" fill="#111" >øD</text>
<text x="548.4" y="374.54999999999995" font-size="10.3" font-weight="bold" fill="#111">L<tspan font-size="7" dy="0.6">1</tspan></text>
<text x="572.0" y="374.54999999999995" font-size="10.3" font-weight="bold" fill="#111">L<tspan font-size="7" dy="0.6">2</tspan></text>
<text x="600.6500000000001" y="374.34999999999997" font-size="10" text-anchor="middle" font-weight="bold" fill="#111" >Q</text>
<text x="624.45" y="374.34999999999997" font-size="10" text-anchor="middle" font-weight="bold" fill="#111" >W</text>
<text x="647.95" y="374.34999999999997" font-size="10" text-anchor="middle" font-weight="bold" fill="#111" >M</text>
<text x="671.55" y="370.34999999999997" font-size="8.6" text-anchor="middle" font-weight="normal" fill="#3a3a3a"  textLength="16.8" lengthAdjust="spacingAndGlyphs">质量</text><text x="671.55" y="378.25" font-size="8.6" text-anchor="middle" font-weight="normal" fill="#3a3a3a" >(g)</text>
<text x="438.3" y="390.75" font-size="10.2" text-anchor="start" font-weight="bold" fill="#111" >KEB06</text>
<text x="496.2" y="390.65" font-size="9.8" text-anchor="middle" font-weight="normal" fill="#151515" >6</text>
<text x="529.45" y="390.65" font-size="9.8" text-anchor="middle" font-weight="normal" fill="#151515" >12.8</text>
<text x="543.9" y="390.65" font-size="9.8" text-anchor="start" font-weight="normal" fill="#151515" >25</text>
<text x="567.4" y="390.65" font-size="9.8" text-anchor="start" font-weight="normal" fill="#151515" >21</text>
<text x="594.0000000000001" y="390.65" font-size="9.8" text-anchor="start" font-weight="normal" fill="#151515" >5.3</text>
<text x="614.9000000000001" y="390.65" font-size="9.8" text-anchor="start" font-weight="normal" fill="#151515" >13</text>
<text x="638.8" y="390.65" font-size="9.8" text-anchor="start" font-weight="normal" fill="#151515" >17</text>
<text x="671.55" y="390.65" font-size="9.8" text-anchor="middle" font-weight="normal" fill="#151515" >13</text>
<text x="438.3" y="401.70000000000005" font-size="10.2" text-anchor="start" font-weight="bold" fill="#111" >KEB08</text>
<text x="496.2" y="401.6" font-size="9.8" text-anchor="middle" font-weight="normal" fill="#151515" >8</text>
<text x="529.45" y="401.6" font-size="9.8" text-anchor="middle" font-weight="normal" fill="#151515" >15.2</text>
<text x="543.9" y="401.6" font-size="9.8" text-anchor="start" font-weight="normal" fill="#151515" >27</text>
<text x="567.4" y="401.6" font-size="9.8" text-anchor="start" font-weight="normal" fill="#151515" >23</text>
<text x="594.0000000000001" y="401.6" font-size="9.8" text-anchor="start" font-weight="normal" fill="#151515" >6</text>
<text x="614.9000000000001" y="401.6" font-size="9.8" text-anchor="start" font-weight="normal" fill="#151515" >15.4</text>
<text x="638.8" y="401.6" font-size="9.8" text-anchor="start" font-weight="normal" fill="#151515" >18.5</text>
<text x="671.55" y="401.6" font-size="9.8" text-anchor="middle" font-weight="normal" fill="#151515" >17</text>
<text x="438.3" y="412.70000000000005" font-size="10.2" text-anchor="start" font-weight="bold" fill="#111" >KEB10</text>
<text x="496.2" y="412.6" font-size="9.8" text-anchor="middle" font-weight="normal" fill="#151515" >10</text>
<text x="529.45" y="412.6" font-size="9.8" text-anchor="middle" font-weight="normal" fill="#151515" >18.5</text>
<text x="543.9" y="412.6" font-size="9.8" text-anchor="start" font-weight="normal" fill="#151515" >27.7</text>
<text x="567.4" y="412.6" font-size="9.8" text-anchor="start" font-weight="normal" fill="#151515" >26.5</text>
<text x="594.0000000000001" y="412.6" font-size="9.8" text-anchor="start" font-weight="normal" fill="#151515" >6.8</text>
<text x="614.9000000000001" y="412.6" font-size="9.8" text-anchor="start" font-weight="normal" fill="#151515" >18.7</text>
<text x="638.8" y="412.6" font-size="9.8" text-anchor="start" font-weight="normal" fill="#151515" >21</text>
<text x="671.55" y="412.6" font-size="9.8" text-anchor="middle" font-weight="normal" fill="#151515" >24</text>
<text x="438.3" y="423.55000000000007" font-size="10.2" text-anchor="start" font-weight="bold" fill="#111" >KEB12</text>
<text x="496.2" y="423.45000000000005" font-size="9.8" text-anchor="middle" font-weight="normal" fill="#151515" >12</text>
<text x="529.45" y="423.45000000000005" font-size="9.8" text-anchor="middle" font-weight="normal" fill="#151515" >20.9</text>
<text x="543.9" y="423.45000000000005" font-size="9.8" text-anchor="start" font-weight="normal" fill="#151515" >29</text>
<text x="567.4" y="423.45000000000005" font-size="9.8" text-anchor="start" font-weight="normal" fill="#151515" >28.5</text>
<text x="594.0000000000001" y="423.45000000000005" font-size="9.8" text-anchor="start" font-weight="normal" fill="#151515" >7.5</text>
<text x="614.9000000000001" y="423.45000000000005" font-size="9.8" text-anchor="start" font-weight="normal" fill="#151515" >21.1</text>
<text x="638.8" y="423.45000000000005" font-size="9.8" text-anchor="start" font-weight="normal" fill="#151515" >22</text>
<text x="671.55" y="423.45000000000005" font-size="9.8" text-anchor="middle" font-weight="normal" fill="#151515" >31</text>
<text x="683" y="356" font-size="8.6" text-anchor="end" font-weight="normal" fill="#333" >(mm)</text>
<rect x="435.2" y="575.6" width="248.59999999999997" height="21.899999999999977" fill="#e6e6e6"/>
<rect x="474.6" y="608.7" width="209.19999999999993" height="10.599999999999909" fill="#e8e8e8"/>
<line x1="435.2" y1="575.6" x2="683.8" y2="575.6" stroke="#2e2e2e" stroke-width="1.4" />
<line x1="435.2" y1="597.5" x2="683.8" y2="597.5" stroke="#2e2e2e" stroke-width="1.4" />
<line x1="435.2" y1="608.7" x2="683.8" y2="608.7" stroke="#2e2e2e" stroke-width="1.25" />
<line x1="435.2" y1="619.3" x2="683.8" y2="619.3" stroke="#2e2e2e" stroke-width="1.4" />
<line x1="474.6" y1="575.6" x2="474.6" y2="619.3" stroke="#333" stroke-width="1.1" />
<line x1="507.7" y1="575.6" x2="507.7" y2="619.3" stroke="#333" stroke-width="1.1" />
<line x1="531.4" y1="575.6" x2="531.4" y2="619.3" stroke="#333" stroke-width="1.1" />
<line x1="555.6" y1="575.6" x2="555.6" y2="619.3" stroke="#333" stroke-width="1.1" />
<line x1="579.6" y1="575.6" x2="579.6" y2="619.3" stroke="#333" stroke-width="1.1" />
<line x1="603.1" y1="575.6" x2="603.1" y2="619.3" stroke="#333" stroke-width="1.1" />
<line x1="627.1" y1="575.6" x2="627.1" y2="619.3" stroke="#333" stroke-width="1.1" />
<line x1="659.8" y1="575.6" x2="659.8" y2="619.3" stroke="#333" stroke-width="1.1" />
<text x="454.9" y="589.9499999999999" font-size="9.5" text-anchor="middle" font-weight="normal" fill="#3a3a3a"  textLength="17.5" lengthAdjust="spacingAndGlyphs">型号</text>
<text x="491.15" y="589.55" font-size="9" text-anchor="middle" font-weight="normal" fill="#3a3a3a"  textLength="29.5" lengthAdjust="spacingAndGlyphs">连接螺纹</text>
<text x="519.55" y="590.25" font-size="10" text-anchor="middle" font-weight="bold" fill="#111" >øD</text>
<text x="538.9" y="590.4499999999999" font-size="10.3" font-weight="bold" fill="#111">L<tspan font-size="7" dy="0.6">1</tspan></text>
<text x="563.0" y="590.4499999999999" font-size="10.3" font-weight="bold" fill="#111">L<tspan font-size="7" dy="0.6">2</tspan></text>
<text x="591.35" y="590.25" font-size="10" text-anchor="middle" font-weight="bold" fill="#111" >Q</text>
<text x="615.1" y="590.25" font-size="10" text-anchor="middle" font-weight="bold" fill="#111" >W</text>
<text x="643.45" y="585.15" font-size="8" text-anchor="middle" font-weight="normal" fill="#3a3a3a"  textLength="28.8" lengthAdjust="spacingAndGlyphs">六角对边</text><text x="643.45" y="594.3499999999999" font-size="8.4" text-anchor="middle" font-weight="bold" fill="#111" >H</text>
<text x="671.8" y="585.15" font-size="8.6" text-anchor="middle" font-weight="normal" fill="#3a3a3a"  textLength="16.8" lengthAdjust="spacingAndGlyphs">质量</text><text x="671.8" y="593.75" font-size="8.6" text-anchor="middle" font-weight="normal" fill="#3a3a3a" >(g)</text>
<text x="437.4" y="606.6999999999999" font-size="10.2" text-anchor="start" font-weight="bold" fill="#111"  textLength="35.6" lengthAdjust="spacingAndGlyphs">KEC-02</text>
<text x="491.15" y="606.6" font-size="9.8" text-anchor="middle" font-weight="normal" fill="#151515" >Rc1/4</text>
<text x="519.55" y="606.6" font-size="9.8" text-anchor="middle" font-weight="normal" fill="#151515" >15.2</text>
<text x="543.5" y="606.6" font-size="9.8" text-anchor="middle" font-weight="normal" fill="#151515" >27</text>
<text x="558.5" y="606.6" font-size="9.8" text-anchor="start" font-weight="normal" fill="#151515" >35.3</text>
<text x="585.2" y="606.6" font-size="9.8" text-anchor="start" font-weight="normal" fill="#151515" >6</text>
<text x="604.3000000000001" y="606.6" font-size="9.8" text-anchor="start" font-weight="normal" fill="#151515" >15.4</text>
<text x="643.45" y="606.6" font-size="9.8" text-anchor="middle" font-weight="normal" fill="#151515" >17</text>
<text x="671.8" y="606.6" font-size="9.8" text-anchor="middle" font-weight="normal" fill="#151515" >64</text>
<text x="437.4" y="617.5999999999999" font-size="10.2" text-anchor="start" font-weight="bold" fill="#111"  textLength="35.6" lengthAdjust="spacingAndGlyphs">KEC-03</text>
<text x="491.15" y="617.5" font-size="9.8" text-anchor="middle" font-weight="normal" fill="#151515" >Rc3/8</text>
<text x="519.55" y="617.5" font-size="9.8" text-anchor="middle" font-weight="normal" fill="#151515" >20.9</text>
<text x="543.5" y="617.5" font-size="9.8" text-anchor="middle" font-weight="normal" fill="#151515" >29</text>
<text x="558.5" y="617.5" font-size="9.8" text-anchor="start" font-weight="normal" fill="#151515" >40</text>
<text x="585.2" y="617.5" font-size="9.8" text-anchor="start" font-weight="normal" fill="#151515" >7.5</text>
<text x="604.3000000000001" y="617.5" font-size="9.8" text-anchor="start" font-weight="normal" fill="#151515" >21.1</text>
<text x="643.45" y="617.5" font-size="9.8" text-anchor="middle" font-weight="normal" fill="#151515" >19</text>
<text x="671.8" y="617.5" font-size="9.8" text-anchor="middle" font-weight="normal" fill="#151515" >89</text>
<text x="683" y="572" font-size="8.6" text-anchor="end" font-weight="normal" fill="#333" >(mm)</text>
<g transform="translate(0,0)">
<rect x="361.2" y="102.9" width="18.69999999999999" height="20.0" rx="1.2" fill="#e2e2e2" stroke="#1a1a1a" stroke-width="1.2"/>
<rect x="400.1" y="102.9" width="18.299999999999955" height="20.0" rx="1.2" fill="#e2e2e2" stroke="#1a1a1a" stroke-width="1.2"/>
<rect x="379.9" y="102.9" width="20.200000000000045" height="20.0" fill="#ebebeb" stroke="#222" stroke-width="1"/>
<rect x="356.3" y="103.6" width="4.9" height="18.6" fill="#e2e2e2" stroke="#222" stroke-width="1"/>
<line x1="357.6" y1="103.6" x2="357.6" y2="122.2" stroke="#222" stroke-width="1.3" />
<rect x="418.4" y="103.6" width="5.2" height="18.6" fill="#e2e2e2" stroke="#222" stroke-width="1"/>
<line x1="422.3" y1="103.6" x2="422.3" y2="122.2" stroke="#222" stroke-width="1.3" />
<line x1="362" y1="107.9" x2="379.5" y2="107.9" stroke="#555" stroke-width="0.8" stroke-dasharray="1.2 1.3"/>
<line x1="400.5" y1="107.9" x2="418" y2="107.9" stroke="#555" stroke-width="0.8" stroke-dasharray="1.2 1.3"/>
<line x1="362" y1="118.0" x2="379.5" y2="118.0" stroke="#555" stroke-width="0.8" stroke-dasharray="1.2 1.3"/>
<line x1="400.5" y1="118.0" x2="418" y2="118.0" stroke="#555" stroke-width="0.8" stroke-dasharray="1.2 1.3"/>
<polyline points="379.9,103.4 390,113.2 400.1,103.4" fill="none" stroke="#222" stroke-width="0.9"/>
<rect x="379.9" y="83.8" width="20.200000000000045" height="19.10000000000001" fill="#e2e2e2" stroke="#222" stroke-width="1"/>
<rect x="381.3" y="74.3" width="16.2" height="8.6" fill="#e8e8e8" stroke="#222" stroke-width="1"/>
<rect x="383" y="82.5" width="13" height="1.6" fill="#444"/>
<path d="M383.5 76.5 L383.5 78.5 L385 78.5" fill="none" stroke="#222" stroke-width="0.8"/>
<line x1="390" y1="69" x2="390" y2="84" stroke="#333" stroke-width="0.8" />
<line x1="390" y1="84" x2="390" y2="122" stroke="#444" stroke-width="0.8" stroke-dasharray="2.5 1.5"/>
<line x1="389.6" y1="126" x2="389.6" y2="172.5" stroke="#333" stroke-width="0.8" />
<line x1="335" y1="113.2" x2="356" y2="113.2" stroke="#222" stroke-width="0.9" />
<line x1="356" y1="113.2" x2="424" y2="113.2" stroke="#333" stroke-width="0.8" />
<line x1="424" y1="113.2" x2="430" y2="113.2" stroke="#333" stroke-width="0.7" stroke-dasharray="5 1.5 1 1.5"/>
<circle cx="389.8" cy="121.3" r="5.9" fill="#fff" stroke="#111" stroke-width="1.4"/><line x1="393.29" y1="122.75" x2="395.25" y2="123.56" stroke="#111" stroke-width="0.9"/><line x1="391.25" y1="124.79" x2="392.06" y2="126.75" stroke="#111" stroke-width="0.9"/><line x1="388.35" y1="124.79" x2="387.54" y2="126.75" stroke="#111" stroke-width="0.9"/><line x1="386.31" y1="122.75" x2="384.35" y2="123.56" stroke="#111" stroke-width="0.9"/><line x1="386.31" y1="119.85" x2="384.35" y2="119.04" stroke="#111" stroke-width="0.9"/><line x1="388.35" y1="117.81" x2="387.54" y2="115.85" stroke="#111" stroke-width="0.9"/><line x1="391.25" y1="117.81" x2="392.06" y2="115.85" stroke="#111" stroke-width="0.9"/><line x1="393.29" y1="119.85" x2="395.25" y2="119.04" stroke="#111" stroke-width="0.9"/><circle cx="389.8" cy="121.3" r="3.7760000000000002" fill="#bdbdbd" stroke="#111" stroke-width="1.1"/><path d="M387.15680000000003 123.94319999999999 L392.4432 118.6568 M386.2128 121.6776 L390.1776 117.7128 M389.42240000000004 124.88719999999999 L393.3872 120.9224 M387.15680000000003 118.6568 L392.4432 123.94319999999999" stroke="#111" stroke-width="0.9"/>
<line x1="379.7" y1="62.5" x2="379.7" y2="74" stroke="#222" stroke-width="0.8" /><line x1="400.2" y1="62.5" x2="400.2" y2="74" stroke="#222" stroke-width="0.8" />
<line x1="379.7" y1="64.3" x2="400.2" y2="64.3" stroke="#1a1a1a" stroke-width="1.0" /><polygon points="379.7,64.3 383.9,62.8 383.9,65.8" fill="#222"/><polygon points="400.2,64.3 396.0,62.8 396.0,65.8" fill="#222"/>
<text x="389.8" y="61.6" font-size="9.6" text-anchor="middle" font-weight="bold" fill="#111" >øD</text>
<line x1="347" y1="74.4" x2="381" y2="74.4" stroke="#222" stroke-width="0.8" />
<line x1="348.8" y1="74.60000000000001" x2="348.8" y2="113" stroke="#1a1a1a" stroke-width="1.0" /><polygon points="348.8,74.60000000000001 347.3,78.80000000000001 350.3,78.80000000000001" fill="#222"/><polygon points="348.8,113 347.3,108.8 350.3,108.8" fill="#222"/>
<text transform="translate(345.4,93.5) rotate(-90)" font-size="10" font-weight="bold" fill="#111" text-anchor="middle">L<tspan font-size="6.5" dy="0.5">1</tspan></text>
<line x1="347" y1="121.6" x2="356" y2="121.6" stroke="#222" stroke-width="0.8" />
<line x1="348.8" y1="113" x2="348.8" y2="130" stroke="#222" stroke-width="0.8" /><polygon points="348.8,121.8 347.3,126.0 350.3,126.0" fill="#222"/>
<text transform="translate(345,117.3) rotate(-90)" font-size="9.8" font-weight="bold" fill="#111" text-anchor="middle">Q</text>
<line x1="318" y1="113.1" x2="333" y2="113.1" stroke="#222" stroke-width="1.1" /><polygon points="336.6,113.1 332.0,111.69999999999999 332.0,114.5" fill="#222"/>
<text x="324.5" y="110.7" font-size="10.4" text-anchor="middle" font-weight="normal" fill="#1a1a1a"  textLength="7" lengthAdjust="spacingAndGlyphs">A</text>
<line x1="370" y1="86.2" x2="370" y2="122.6" stroke="#222" stroke-width="0.8" /><polygon points="370,103.2 368.5,107.4 371.5,107.4" fill="#222"/><polygon points="370,122.6 368.5,118.39999999999999 371.5,118.39999999999999" fill="#222"/>
<text transform="translate(367,92.3) rotate(-90)" font-size="9.2" font-weight="bold" fill="#111" text-anchor="middle">øD</text>
<line x1="424" y1="103.1" x2="441" y2="103.1" stroke="#222" stroke-width="0.8" /><line x1="424" y1="122.5" x2="441" y2="122.5" stroke="#222" stroke-width="0.8" />
<line x1="438.4" y1="103.3" x2="438.4" y2="122.3" stroke="#1a1a1a" stroke-width="1.0" /><polygon points="438.4,103.3 436.9,107.5 439.9,107.5" fill="#222"/><polygon points="438.4,122.3 436.9,118.1 439.9,118.1" fill="#222"/>
<text transform="translate(435,112.3) rotate(-90)" font-size="9.2" font-weight="bold" fill="#111" text-anchor="middle">øD</text>
<line x1="446" y1="113.1" x2="459.7" y2="113.1" stroke="#222" stroke-width="1.1" /><polygon points="443.4,113.1 447.59999999999997,111.69999999999999 447.59999999999997,114.5" fill="#222"/>
<text x="455.0" y="110.7" font-size="10.2" text-anchor="middle" font-weight="normal" fill="#1a1a1a"  textLength="6.2" lengthAdjust="spacingAndGlyphs">B</text>
<line x1="356.7" y1="124" x2="356.7" y2="172" stroke="#222" stroke-width="0.8" /><line x1="422.9" y1="124" x2="422.9" y2="172" stroke="#222" stroke-width="0.8" />
<line x1="384.1" y1="124" x2="384.1" y2="159.5" stroke="#222" stroke-width="0.8" /><line x1="395.4" y1="124" x2="395.4" y2="159.5" stroke="#222" stroke-width="0.8" />
<line x1="356.9" y1="157.8" x2="384" y2="157.8" stroke="#1a1a1a" stroke-width="1.0" /><polygon points="356.9,157.8 361.09999999999997,156.3 361.09999999999997,159.3" fill="#222"/><polygon points="384,157.8 379.8,156.3 379.8,159.3" fill="#222"/><line x1="395.5" y1="157.8" x2="422.7" y2="157.8" stroke="#1a1a1a" stroke-width="1.0" /><polygon points="395.5,157.8 399.7,156.3 399.7,159.3" fill="#222"/><polygon points="422.7,157.8 418.5,156.3 418.5,159.3" fill="#222"/>
<line x1="356.9" y1="170.2" x2="389.3" y2="170.2" stroke="#1a1a1a" stroke-width="1.0" /><polygon points="356.9,170.2 361.09999999999997,168.7 361.09999999999997,171.7" fill="#222"/><polygon points="389.3,170.2 385.1,168.7 385.1,171.7" fill="#222"/><line x1="389.5" y1="170.2" x2="422.7" y2="170.2" stroke="#1a1a1a" stroke-width="1.0" /><polygon points="389.5,170.2 393.7,168.7 393.7,171.7" fill="#222"/><polygon points="422.7,170.2 418.5,168.7 418.5,171.7" fill="#222"/>
<text x="370.1" y="155" font-size="10.6" text-anchor="middle" font-weight="bold" fill="#111" >M</text>
<text x="409.5" y="155" font-size="10.6" text-anchor="middle" font-weight="bold" fill="#111" >M</text>
<text x="373.2" y="168.4" font-size="10.6" font-weight="bold" fill="#111" text-anchor="middle">L<tspan font-size="6.89" dy="0.5">2</tspan></text>
<text x="406.7" y="168.4" font-size="10.6" font-weight="bold" fill="#111" text-anchor="middle">L<tspan font-size="6.89" dy="0.5">2</tspan></text>
<line x1="384.8" y1="125.5" x2="366.5" y2="144.4" stroke="#222" stroke-width="0.8" />
<text transform="translate(368.6,136.4) rotate(-50)" font-size="9.4" font-weight="normal" fill="#111" text-anchor="middle">ø4.2</text>
<line x1="395.7" y1="125.5" x2="406.7" y2="138.3" stroke="#222" stroke-width="0.8" />
<text transform="translate(405,131.8) rotate(50)" font-size="9.2" font-weight="normal" fill="#111" text-anchor="middle">ø8</text>
</g>
<g transform="translate(0,0)">
<rect x="552.2" y="84.4" width="21" height="17.5" fill="#e2e2e2" stroke="#222" stroke-width="1"/>
<rect x="552.2" y="120.5" width="21" height="7" fill="#e2e2e2" stroke="#222" stroke-width="1"/>
<circle cx="562.5" cy="113" r="10.8" fill="#f0f0f0" stroke="#111" stroke-width="1.8"/>
<line x1="566.389087296526" y1="116.88908729652601" x2="569.5710678118655" y2="120.07106781186548" stroke="#222" stroke-width="1.1" />
<line x1="558.610912703474" y1="116.88908729652601" x2="555.4289321881346" y2="120.07106781186548" stroke="#222" stroke-width="1.1" />
<line x1="558.610912703474" y1="109.11091270347399" x2="555.4289321881345" y2="105.92893218813452" stroke="#222" stroke-width="1.1" />
<line x1="566.389087296526" y1="109.11091270347399" x2="569.5710678118654" y2="105.92893218813452" stroke="#222" stroke-width="1.1" />
<circle cx="562.5" cy="113" r="5" fill="#fff" stroke="#111" stroke-width="2"/>
<circle cx="562.5" cy="113" r="1.8" fill="#fff" stroke="#111" stroke-width="1"/>
<rect x="554.2" y="74.1" width="16.6" height="8.4" fill="#e8e8e8" stroke="#222" stroke-width="1"/>
<rect x="556" y="82.4" width="13" height="2" fill="#444"/>
<line x1="562.5" y1="70.8" x2="562.5" y2="131" stroke="#222" stroke-width="0.8" />
<line x1="549.3" y1="113" x2="574.5" y2="113" stroke="#222" stroke-width="0.8" /><line x1="549.3" y1="121.4" x2="574.5" y2="121.4" stroke="#222" stroke-width="0.8" />
<line x1="552.2" y1="127.5" x2="552.2" y2="145" stroke="#222" stroke-width="0.8" /><line x1="573.2" y1="127.5" x2="573.2" y2="145" stroke="#222" stroke-width="0.8" />
<line x1="552.4" y1="143.4" x2="573" y2="143.4" stroke="#1a1a1a" stroke-width="1.0" /><polygon points="552.4,143.4 556.6,141.9 556.6,144.9" fill="#222"/><polygon points="573,143.4 568.8,141.9 568.8,144.9" fill="#222"/>
<text x="562.2" y="141.5" font-size="10.4" text-anchor="middle" font-weight="bold" fill="#111" >W</text>
</g>
<text x="312" y="51.6" font-size="9" text-anchor="start" font-weight="normal" fill="#333" >残压释放按钮</text><line x1="311" y1="53.8" x2="368.1" y2="53.8" stroke="#1a1a1a" stroke-width="1.0" /><polyline points="368.1,53.8 383.1,75.5" fill="none" stroke="#1a1a1a" stroke-width="1.05"/>
<text x="327" y="62.6" font-size="9" text-anchor="start" font-weight="normal" fill="#333"  textLength="25" lengthAdjust="spacingAndGlyphs">(红色)</text>
<text x="290.8" y="76.6" font-size="9" text-anchor="start" font-weight="normal" fill="#333" >释放套</text><line x1="288" y1="78.2" x2="341" y2="78.2" stroke="#1a1a1a" stroke-width="1.0" /><polyline points="341,78.2 357,103.3" fill="none" stroke="#1a1a1a" stroke-width="1.05"/>
<text x="291.5" y="88" font-size="9" text-anchor="start" font-weight="normal" fill="#333"  textLength="25" lengthAdjust="spacingAndGlyphs">(蓝色)</text>
<text x="278" y="155.4" font-size="9" text-anchor="start" font-weight="normal" fill="#333" >适合管子</text><line x1="276.6" y1="157.6" x2="330.7" y2="157.6" stroke="#1a1a1a" stroke-width="1.0" /><polyline points="330.7,157.6 355.1,114.9" fill="none" stroke="#1a1a1a" stroke-width="1.05"/>
<text x="441" y="55.4" font-size="9" text-anchor="start" font-weight="normal" fill="#333"  textLength="42.5" lengthAdjust="spacingAndGlyphs">阀体(红色)</text><line x1="441" y1="57.8" x2="482.5" y2="57.8" stroke="#1a1a1a" stroke-width="1.0" /><polyline points="441,57.8 409.4,104" fill="none" stroke="#1a1a1a" stroke-width="1.05"/>
<text x="444" y="78.4" font-size="9" text-anchor="start" font-weight="normal" fill="#333"  textLength="51.5" lengthAdjust="spacingAndGlyphs">释放套(蓝色)</text><line x1="444" y1="80.6" x2="494.4" y2="80.6" stroke="#1a1a1a" stroke-width="1.0" /><polyline points="444,80.6 422,102.7" fill="none" stroke="#1a1a1a" stroke-width="1.05"/>
<text x="460" y="138.8" font-size="9" text-anchor="start" font-weight="normal" fill="#333" >适合管子</text><line x1="437.8" y1="140.6" x2="494.4" y2="140.6" stroke="#1a1a1a" stroke-width="1.0" /><polyline points="437.8,140.6 423.6,112" fill="none" stroke="#1a1a1a" stroke-width="1.05"/>
<g transform="translate(-0.7,208.1)">
<rect x="361.2" y="102.9" width="18.69999999999999" height="20.0" rx="1.2" fill="#e2e2e2" stroke="#1a1a1a" stroke-width="1.2"/>
<rect x="400.1" y="102.9" width="18.299999999999955" height="20.0" rx="1.2" fill="#e2e2e2" stroke="#1a1a1a" stroke-width="1.2"/>
<rect x="379.9" y="102.9" width="20.200000000000045" height="20.0" fill="#ebebeb" stroke="#222" stroke-width="1"/>
<rect x="356.3" y="103.6" width="4.9" height="18.6" fill="#e2e2e2" stroke="#222" stroke-width="1"/>
<line x1="357.6" y1="103.6" x2="357.6" y2="122.2" stroke="#222" stroke-width="1.3" />
<rect x="418.4" y="103.6" width="5.2" height="18.6" fill="#e2e2e2" stroke="#222" stroke-width="1"/>
<line x1="422.3" y1="103.6" x2="422.3" y2="122.2" stroke="#222" stroke-width="1.3" />
<line x1="362" y1="107.9" x2="379.5" y2="107.9" stroke="#555" stroke-width="0.8" stroke-dasharray="1.2 1.3"/>
<line x1="400.5" y1="107.9" x2="418" y2="107.9" stroke="#555" stroke-width="0.8" stroke-dasharray="1.2 1.3"/>
<line x1="362" y1="118.0" x2="379.5" y2="118.0" stroke="#555" stroke-width="0.8" stroke-dasharray="1.2 1.3"/>
<line x1="400.5" y1="118.0" x2="418" y2="118.0" stroke="#555" stroke-width="0.8" stroke-dasharray="1.2 1.3"/>
<polyline points="379.9,103.4 390,113.2 400.1,103.4" fill="none" stroke="#222" stroke-width="0.9"/>
<rect x="379.9" y="84" width="20.200000000000045" height="18.900000000000006" fill="#e2e2e2" stroke="#222" stroke-width="1"/>
<rect x="379.9" y="72.8" width="20.200000000000045" height="11.2" fill="#f0f0f0" stroke="#222" stroke-width="1"/>
<path d="M381.8 73.5 L381.8 82 L393 82 Q395 82 396 78 Q397 74 399.5 73.5" fill="#e0e0e0" stroke="#222" stroke-width="0.9"/>
<rect x="379.9" y="82.6" width="20.200000000000045" height="1.6" fill="#222"/>
<circle cx="383.4" cy="76.4" r="0.8" fill="#222"/>
<line x1="390" y1="69" x2="390" y2="84" stroke="#333" stroke-width="0.8" />
<line x1="390" y1="84" x2="390" y2="122" stroke="#444" stroke-width="0.8" stroke-dasharray="2.5 1.5"/>
<line x1="389.6" y1="126" x2="389.6" y2="172.5" stroke="#333" stroke-width="0.8" />
<line x1="335" y1="113.2" x2="356" y2="113.2" stroke="#222" stroke-width="0.9" />
<line x1="356" y1="113.2" x2="424" y2="113.2" stroke="#333" stroke-width="0.8" />
<line x1="424" y1="113.2" x2="430" y2="113.2" stroke="#333" stroke-width="0.7" stroke-dasharray="5 1.5 1 1.5"/>
<circle cx="389.8" cy="121.3" r="5.9" fill="#fff" stroke="#111" stroke-width="1.4"/><line x1="393.29" y1="122.75" x2="395.25" y2="123.56" stroke="#111" stroke-width="0.9"/><line x1="391.25" y1="124.79" x2="392.06" y2="126.75" stroke="#111" stroke-width="0.9"/><line x1="388.35" y1="124.79" x2="387.54" y2="126.75" stroke="#111" stroke-width="0.9"/><line x1="386.31" y1="122.75" x2="384.35" y2="123.56" stroke="#111" stroke-width="0.9"/><line x1="386.31" y1="119.85" x2="384.35" y2="119.04" stroke="#111" stroke-width="0.9"/><line x1="388.35" y1="117.81" x2="387.54" y2="115.85" stroke="#111" stroke-width="0.9"/><line x1="391.25" y1="117.81" x2="392.06" y2="115.85" stroke="#111" stroke-width="0.9"/><line x1="393.29" y1="119.85" x2="395.25" y2="119.04" stroke="#111" stroke-width="0.9"/><circle cx="389.8" cy="121.3" r="3.7760000000000002" fill="#bdbdbd" stroke="#111" stroke-width="1.1"/><path d="M387.15680000000003 123.94319999999999 L392.4432 118.6568 M386.2128 121.6776 L390.1776 117.7128 M389.42240000000004 124.88719999999999 L393.3872 120.9224 M387.15680000000003 118.6568 L392.4432 123.94319999999999" stroke="#111" stroke-width="0.9"/>
<line x1="379.7" y1="62.5" x2="379.7" y2="74" stroke="#222" stroke-width="0.8" /><line x1="400.2" y1="62.5" x2="400.2" y2="74" stroke="#222" stroke-width="0.8" />
<line x1="379.7" y1="64.3" x2="400.2" y2="64.3" stroke="#1a1a1a" stroke-width="1.0" /><polygon points="379.7,64.3 383.9,62.8 383.9,65.8" fill="#222"/><polygon points="400.2,64.3 396.0,62.8 396.0,65.8" fill="#222"/>
<text x="389.8" y="61.6" font-size="9.6" text-anchor="middle" font-weight="bold" fill="#111" >øD</text>
<line x1="347" y1="73.9" x2="381" y2="73.9" stroke="#222" stroke-width="0.8" />
<line x1="348.8" y1="74.10000000000001" x2="348.8" y2="113" stroke="#1a1a1a" stroke-width="1.0" /><polygon points="348.8,74.10000000000001 347.3,78.30000000000001 350.3,78.30000000000001" fill="#222"/><polygon points="348.8,113 347.3,108.8 350.3,108.8" fill="#222"/>
<text transform="translate(345.4,93.5) rotate(-90)" font-size="10" font-weight="bold" fill="#111" text-anchor="middle">L<tspan font-size="6.5" dy="0.5">1</tspan></text>
<line x1="347" y1="121.6" x2="356" y2="121.6" stroke="#222" stroke-width="0.8" />
<line x1="348.8" y1="113" x2="348.8" y2="130" stroke="#222" stroke-width="0.8" /><polygon points="348.8,121.8 347.3,126.0 350.3,126.0" fill="#222"/>
<text transform="translate(345,117.3) rotate(-90)" font-size="9.8" font-weight="bold" fill="#111" text-anchor="middle">Q</text>
<line x1="318" y1="113.1" x2="333" y2="113.1" stroke="#222" stroke-width="1.1" /><polygon points="336.6,113.1 332.0,111.69999999999999 332.0,114.5" fill="#222"/>
<text x="324.5" y="110.7" font-size="10.4" text-anchor="middle" font-weight="normal" fill="#1a1a1a"  textLength="7" lengthAdjust="spacingAndGlyphs">A</text>
<line x1="370" y1="86.2" x2="370" y2="122.6" stroke="#222" stroke-width="0.8" /><polygon points="370,103.2 368.5,107.4 371.5,107.4" fill="#222"/><polygon points="370,122.6 368.5,118.39999999999999 371.5,118.39999999999999" fill="#222"/>
<text transform="translate(367,92.3) rotate(-90)" font-size="9.2" font-weight="bold" fill="#111" text-anchor="middle">øD</text>
<line x1="424" y1="103.1" x2="441" y2="103.1" stroke="#222" stroke-width="0.8" /><line x1="424" y1="122.5" x2="441" y2="122.5" stroke="#222" stroke-width="0.8" />
<line x1="438.4" y1="103.3" x2="438.4" y2="122.3" stroke="#1a1a1a" stroke-width="1.0" /><polygon points="438.4,103.3 436.9,107.5 439.9,107.5" fill="#222"/><polygon points="438.4,122.3 436.9,118.1 439.9,118.1" fill="#222"/>
<text transform="translate(435,112.3) rotate(-90)" font-size="9.2" font-weight="bold" fill="#111" text-anchor="middle">øD</text>
<line x1="443.8" y1="113.1" x2="457.5" y2="113.1" stroke="#222" stroke-width="1.1" /><polygon points="441.2,113.1 445.4,111.69999999999999 445.4,114.5" fill="#222"/>
<text x="451.7" y="110.7" font-size="10.2" text-anchor="middle" font-weight="normal" fill="#1a1a1a"  textLength="6.2" lengthAdjust="spacingAndGlyphs">B</text>
<line x1="356.7" y1="124" x2="356.7" y2="172" stroke="#222" stroke-width="0.8" /><line x1="422.9" y1="124" x2="422.9" y2="172" stroke="#222" stroke-width="0.8" />
<line x1="384.1" y1="124" x2="384.1" y2="159.5" stroke="#222" stroke-width="0.8" /><line x1="395.4" y1="124" x2="395.4" y2="159.5" stroke="#222" stroke-width="0.8" />
<line x1="356.9" y1="157.8" x2="384" y2="157.8" stroke="#1a1a1a" stroke-width="1.0" /><polygon points="356.9,157.8 361.09999999999997,156.3 361.09999999999997,159.3" fill="#222"/><polygon points="384,157.8 379.8,156.3 379.8,159.3" fill="#222"/><line x1="395.5" y1="157.8" x2="422.7" y2="157.8" stroke="#1a1a1a" stroke-width="1.0" /><polygon points="395.5,157.8 399.7,156.3 399.7,159.3" fill="#222"/><polygon points="422.7,157.8 418.5,156.3 418.5,159.3" fill="#222"/>
<line x1="356.9" y1="170.2" x2="389.3" y2="170.2" stroke="#1a1a1a" stroke-width="1.0" /><polygon points="356.9,170.2 361.09999999999997,168.7 361.09999999999997,171.7" fill="#222"/><polygon points="389.3,170.2 385.1,168.7 385.1,171.7" fill="#222"/><line x1="389.5" y1="170.2" x2="422.7" y2="170.2" stroke="#1a1a1a" stroke-width="1.0" /><polygon points="389.5,170.2 393.7,168.7 393.7,171.7" fill="#222"/><polygon points="422.7,170.2 418.5,168.7 418.5,171.7" fill="#222"/>
<text x="370.1" y="155" font-size="10.6" text-anchor="middle" font-weight="bold" fill="#111" >M</text>
<text x="409.5" y="155" font-size="10.6" text-anchor="middle" font-weight="bold" fill="#111" >M</text>
<text x="373.2" y="168.4" font-size="10.6" font-weight="bold" fill="#111" text-anchor="middle">L<tspan font-size="6.89" dy="0.5">2</tspan></text>
<text x="406.7" y="168.4" font-size="10.6" font-weight="bold" fill="#111" text-anchor="middle">L<tspan font-size="6.89" dy="0.5">2</tspan></text>
<line x1="384.8" y1="125.5" x2="366.5" y2="144.4" stroke="#222" stroke-width="0.8" />
<text transform="translate(368.6,136.4) rotate(-50)" font-size="9.4" font-weight="normal" fill="#111" text-anchor="middle">ø4.2</text>
<line x1="395.7" y1="125.5" x2="406.7" y2="138.3" stroke="#222" stroke-width="0.8" />
<text transform="translate(405,131.8) rotate(50)" font-size="9.2" font-weight="normal" fill="#111" text-anchor="middle">ø8</text>
</g>
<g transform="translate(0.6,207.8)">
<rect x="552.2" y="84.4" width="21" height="17.5" fill="#e2e2e2" stroke="#222" stroke-width="1"/>
<rect x="552.2" y="120.5" width="21" height="7" fill="#e2e2e2" stroke="#222" stroke-width="1"/>
<circle cx="562.5" cy="113" r="10.8" fill="#f0f0f0" stroke="#111" stroke-width="1.8"/>
<line x1="566.389087296526" y1="116.88908729652601" x2="569.5710678118655" y2="120.07106781186548" stroke="#222" stroke-width="1.1" />
<line x1="558.610912703474" y1="116.88908729652601" x2="555.4289321881346" y2="120.07106781186548" stroke="#222" stroke-width="1.1" />
<line x1="558.610912703474" y1="109.11091270347399" x2="555.4289321881345" y2="105.92893218813452" stroke="#222" stroke-width="1.1" />
<line x1="566.389087296526" y1="109.11091270347399" x2="569.5710678118654" y2="105.92893218813452" stroke="#222" stroke-width="1.1" />
<circle cx="562.5" cy="113" r="5" fill="#fff" stroke="#111" stroke-width="2"/>
<circle cx="562.5" cy="113" r="1.8" fill="#fff" stroke="#111" stroke-width="1"/>
<rect x="552.2" y="72.8" width="21" height="11.6" fill="#ececec" stroke="#222" stroke-width="1"/>
<line x1="562.5" y1="70.8" x2="562.5" y2="131" stroke="#222" stroke-width="0.8" />
<line x1="549.3" y1="113" x2="574.5" y2="113" stroke="#222" stroke-width="0.8" /><line x1="549.3" y1="121.4" x2="574.5" y2="121.4" stroke="#222" stroke-width="0.8" />
<line x1="552.2" y1="127.5" x2="552.2" y2="145" stroke="#222" stroke-width="0.8" /><line x1="573.2" y1="127.5" x2="573.2" y2="145" stroke="#222" stroke-width="0.8" />
<line x1="552.4" y1="143.4" x2="573" y2="143.4" stroke="#1a1a1a" stroke-width="1.0" /><polygon points="552.4,143.4 556.6,141.9 556.6,144.9" fill="#222"/><polygon points="573,143.4 568.8,141.9 568.8,144.9" fill="#222"/>
<text x="562.2" y="141.5" font-size="10.4" text-anchor="middle" font-weight="bold" fill="#111" >W</text>
</g>
<text x="290" y="254" font-size="9" text-anchor="start" font-weight="normal" fill="#333" >残压释放按钮</text><line x1="286" y1="255.8" x2="366.1" y2="255.8" stroke="#1a1a1a" stroke-width="1.0" /><polyline points="366.1,255.8 379.1,280" fill="none" stroke="#1a1a1a" stroke-width="1.05"/>
<text x="305" y="265.6" font-size="9" text-anchor="start" font-weight="normal" fill="#333"  textLength="25" lengthAdjust="spacingAndGlyphs">(红色)</text>
<text x="289" y="279.9" font-size="9" text-anchor="start" font-weight="normal" fill="#333" >释放套</text><line x1="286" y1="281.2" x2="339" y2="281.2" stroke="#1a1a1a" stroke-width="1.0" /><polyline points="339,281.2 357.1,311.1" fill="none" stroke="#1a1a1a" stroke-width="1.05"/>
<text x="289" y="290.2" font-size="9" text-anchor="start" font-weight="normal" fill="#333"  textLength="25" lengthAdjust="spacingAndGlyphs">(蓝色)</text>
<text x="277" y="363.5" font-size="9" text-anchor="start" font-weight="normal" fill="#333" >适合管子</text><line x1="276" y1="365.7" x2="330" y2="365.7" stroke="#1a1a1a" stroke-width="1.0" /><polyline points="330,365.7 354.4,323" fill="none" stroke="#1a1a1a" stroke-width="1.05"/>
<text x="450" y="260.2" font-size="9" text-anchor="start" font-weight="normal" fill="#333"  textLength="42.5" lengthAdjust="spacingAndGlyphs">阀体(红色)</text><line x1="437.2" y1="261.8" x2="492" y2="261.8" stroke="#1a1a1a" stroke-width="1.0" /><polyline points="437.2,261.8 408.6,312.2" fill="none" stroke="#1a1a1a" stroke-width="1.05"/>
<text x="448.6" y="276.8" font-size="9" text-anchor="start" font-weight="normal" fill="#333"  textLength="51.5" lengthAdjust="spacingAndGlyphs">释放套(蓝色)</text><line x1="440" y1="278.9" x2="500.1" y2="278.9" stroke="#1a1a1a" stroke-width="1.0" /><polyline points="440,278.9 421.5,311.5" fill="none" stroke="#1a1a1a" stroke-width="1.05"/>
<text x="455.8" y="344.1" font-size="9" text-anchor="start" font-weight="normal" fill="#333" >适合管子</text><line x1="437.2" y1="346.6" x2="490" y2="346.6" stroke="#1a1a1a" stroke-width="1.0" /><polyline points="437.2,346.6 421.5,320.8" fill="none" stroke="#1a1a1a" stroke-width="1.05"/>
<rect x="331" y="507.4" width="17.8" height="30.9" rx="2.5" fill="#e6e6e6" stroke="#222" stroke-width="1"/>
<line x1="333.5" y1="512" x2="346" y2="512" stroke="#555" stroke-width="0.8" stroke-dasharray="1.2 1.3"/>
<line x1="333.5" y1="533.5" x2="346" y2="533.5" stroke="#555" stroke-width="0.8" stroke-dasharray="1.2 1.3"/>
<line x1="334" y1="510" x2="334" y2="536" stroke="#444" stroke-width="0.7" /><line x1="345.5" y1="510" x2="345.5" y2="536" stroke="#444" stroke-width="0.7" />
<rect x="429.4" y="507.4" width="17.5" height="30.9" rx="2.5" fill="#e6e6e6" stroke="#222" stroke-width="1"/>
<line x1="431.9" y1="512" x2="444.4" y2="512" stroke="#555" stroke-width="0.8" stroke-dasharray="1.2 1.3"/>
<line x1="431.9" y1="533.5" x2="444.4" y2="533.5" stroke="#555" stroke-width="0.8" stroke-dasharray="1.2 1.3"/>
<line x1="432.4" y1="510" x2="432.4" y2="536" stroke="#444" stroke-width="0.7" /><line x1="443.9" y1="510" x2="443.9" y2="536" stroke="#444" stroke-width="0.7" />
<rect x="349" y="509.2" width="5.7" height="27" fill="#e2e2e2" stroke="#222" stroke-width="1"/>
<rect x="423" y="509.2" width="6.4" height="27" fill="#e2e2e2" stroke="#222" stroke-width="1"/>
<rect x="354.7" y="510.5" width="21.9" height="24.4" fill="#e2e2e2" stroke="#222" stroke-width="1"/>
<rect x="401" y="510.5" width="22" height="24.4" fill="#e2e2e2" stroke="#222" stroke-width="1"/>
<rect x="376.6" y="510.5" width="24.4" height="24.4" fill="#ebebeb" stroke="#222" stroke-width="1"/>
<polyline points="376.6,511 389,522.8 401,511" fill="none" stroke="#222" stroke-width="0.9"/>
<rect x="376.1" y="489" width="25.7" height="21.5" fill="#e2e2e2" stroke="#222" stroke-width="1"/>
<rect x="376.1" y="479.3" width="25.7" height="10" fill="#eeeeee" stroke="#1a1a1a" stroke-width="1.4"/>
<path d="M378.6 480.5 L378.6 487 L383 487 M396 487 L399 481" stroke="#222" stroke-width="1" fill="none"/>
<rect x="376.1" y="487.4" width="25.7" height="2.2" fill="#1a1a1a"/>
<line x1="389.3" y1="474" x2="389.3" y2="571" stroke="#333" stroke-width="0.8" />
<line x1="312" y1="522.8" x2="331" y2="522.8" stroke="#333" stroke-width="0.7" stroke-dasharray="5 1.5 1 1.5"/>
<line x1="331" y1="522.8" x2="447" y2="522.8" stroke="#333" stroke-width="0.8" />
<line x1="447" y1="522.8" x2="452" y2="522.8" stroke="#333" stroke-width="0.7" stroke-dasharray="5 1.5 1 1.5"/>
<circle cx="389" cy="532.3" r="7.3" fill="#fff" stroke="#111" stroke-width="1.4"/><line x1="393.32" y1="534.09" x2="395.74" y2="535.09" stroke="#111" stroke-width="0.9"/><line x1="390.79" y1="536.62" x2="391.79" y2="539.04" stroke="#111" stroke-width="0.9"/><line x1="387.21" y1="536.62" x2="386.21" y2="539.04" stroke="#111" stroke-width="0.9"/><line x1="384.68" y1="534.09" x2="382.26" y2="535.09" stroke="#111" stroke-width="0.9"/><line x1="384.68" y1="530.51" x2="382.26" y2="529.51" stroke="#111" stroke-width="0.9"/><line x1="387.21" y1="527.98" x2="386.21" y2="525.56" stroke="#111" stroke-width="0.9"/><line x1="390.79" y1="527.98" x2="391.79" y2="525.56" stroke="#111" stroke-width="0.9"/><line x1="393.32" y1="530.51" x2="395.74" y2="529.51" stroke="#111" stroke-width="0.9"/><circle cx="389" cy="532.3" r="4.672" fill="#bdbdbd" stroke="#111" stroke-width="1.1"/><path d="M385.7296 535.5704 L392.2704 529.0296 M384.5616 532.7672 L389.4672 527.8616 M388.5328 536.7384 L393.4384 531.8327999999999 M385.7296 529.0296 L392.2704 535.5704" stroke="#111" stroke-width="0.9"/>
<line x1="376.1" y1="461" x2="376.1" y2="479" stroke="#222" stroke-width="0.8" /><line x1="401.8" y1="461" x2="401.8" y2="479" stroke="#222" stroke-width="0.8" />
<line x1="376.3" y1="463" x2="401.6" y2="463" stroke="#1a1a1a" stroke-width="1.0" /><polygon points="376.3,463 380.5,461.5 380.5,464.5" fill="#222"/><polygon points="401.6,463 397.40000000000003,461.5 397.40000000000003,464.5" fill="#222"/>
<text x="389.2" y="461" font-size="9.6" text-anchor="middle" font-weight="bold" fill="#111" >øD</text>
<line x1="316" y1="479.7" x2="377" y2="479.7" stroke="#222" stroke-width="0.8" />
<line x1="318.4" y1="480" x2="318.4" y2="522.6" stroke="#1a1a1a" stroke-width="1.0" /><polygon points="318.4,480 316.9,484.2 319.9,484.2" fill="#222"/><polygon points="318.4,522.6 316.9,518.4 319.9,518.4" fill="#222"/>
<text transform="translate(315.8,501) rotate(-90)" font-size="10" font-weight="bold" fill="#111" text-anchor="middle">L<tspan font-size="6.5" dy="0.5">1</tspan></text>
<line x1="316" y1="533.6" x2="331" y2="533.6" stroke="#222" stroke-width="0.8" />
<line x1="318.4" y1="522.8" x2="318.4" y2="541" stroke="#222" stroke-width="0.8" /><polygon points="318.4,533.8 316.9,538.0 319.9,538.0" fill="#222"/>
<text transform="translate(314.3,527.2) rotate(-90)" font-size="9.8" font-weight="bold" fill="#111" text-anchor="middle">Q</text>
<line x1="290.8" y1="523.2" x2="303" y2="523.2" stroke="#222" stroke-width="1.1" /><polygon points="307.3,523.2 302.7,521.8000000000001 302.7,524.6" fill="#222"/>
<text x="295.75" y="520.7" font-size="10.2" text-anchor="middle" font-weight="normal" fill="#1a1a1a"  textLength="7" lengthAdjust="spacingAndGlyphs">A</text>
<line x1="366.3" y1="494.5" x2="366.3" y2="535.2" stroke="#222" stroke-width="0.8" /><polygon points="366.3,510.7 364.8,514.9 367.8,514.9" fill="#222"/><polygon points="366.3,534.8 364.8,530.5999999999999 367.8,530.5999999999999" fill="#222"/>
<text transform="translate(364.2,502.1) rotate(-90)" font-size="9.2" font-weight="bold" fill="#111" text-anchor="middle">øD</text>
<line x1="447.2" y1="508.2" x2="485" y2="508.2" stroke="#222" stroke-width="0.8" /><line x1="447.2" y1="537.5" x2="485" y2="537.5" stroke="#222" stroke-width="0.8" />
<line x1="483" y1="508.4" x2="483" y2="537.3" stroke="#1a1a1a" stroke-width="1.0" /><polygon points="483,508.4 481.5,512.6 484.5,512.6" fill="#222"/><polygon points="483,537.3 481.5,533.0999999999999 484.5,533.0999999999999" fill="#222"/>
<text transform="translate(479.8,523) rotate(-90)" font-size="9.4" font-weight="bold" fill="#111" text-anchor="middle">H</text>
<line x1="457" y1="523.3" x2="469.7" y2="523.3" stroke="#222" stroke-width="1.1" /><polygon points="453.7,523.3 457.9,521.9 457.9,524.6999999999999" fill="#222"/>
<text x="464.75" y="520.6" font-size="9" text-anchor="middle" font-weight="normal" fill="#1a1a1a"  textLength="5.8" lengthAdjust="spacingAndGlyphs">B</text>
<line x1="331.5" y1="539" x2="331.5" y2="571" stroke="#222" stroke-width="0.8" /><line x1="446.5" y1="539" x2="446.5" y2="571" stroke="#222" stroke-width="0.8" />
<line x1="331.7" y1="568.4" x2="389.2" y2="568.4" stroke="#1a1a1a" stroke-width="1.0" /><polygon points="331.7,568.4 335.9,566.9 335.9,569.9" fill="#222"/><polygon points="389.2,568.4 385.0,566.9 385.0,569.9" fill="#222"/><line x1="389.6" y1="568.4" x2="446.3" y2="568.4" stroke="#1a1a1a" stroke-width="1.0" /><polygon points="389.6,568.4 393.8,566.9 393.8,569.9" fill="#222"/><polygon points="446.3,568.4 442.1,566.9 442.1,569.9" fill="#222"/>
<text x="357.5" y="566.4" font-size="10.6" font-weight="bold" fill="#111" text-anchor="middle">L<tspan font-size="6.89" dy="0.5">2</tspan></text>
<text x="416.5" y="566.4" font-size="10.6" font-weight="bold" fill="#111" text-anchor="middle">L<tspan font-size="6.89" dy="0.5">2</tspan></text>
<line x1="383" y1="537.5" x2="365" y2="556.8" stroke="#222" stroke-width="0.8" />
<text transform="translate(369.3,549) rotate(-50)" font-size="9.4" font-weight="normal" fill="#111" text-anchor="middle">ø4.2</text>
<line x1="394.6" y1="536.2" x2="403.6" y2="546.5" stroke="#222" stroke-width="0.8" />
<text transform="translate(406.5,544) rotate(50)" font-size="9.2" font-weight="normal" fill="#111" text-anchor="middle">ø8</text>
<text x="292" y="460.2" font-size="9" text-anchor="start" font-weight="normal" fill="#333" >残压释放按钮</text><line x1="289" y1="460.6" x2="370.1" y2="460.6" stroke="#1a1a1a" stroke-width="1.0" /><polyline points="370.1,460.6 380.2,479.5" fill="none" stroke="#1a1a1a" stroke-width="1.05"/>
<text x="307" y="472.2" font-size="9" text-anchor="start" font-weight="normal" fill="#333"  textLength="25" lengthAdjust="spacingAndGlyphs">(红色)</text>
<text x="300.6" y="588.8" font-size="9" text-anchor="start" font-weight="normal" fill="#333" >连接螺纹</text><line x1="294.2" y1="589.8" x2="336.7" y2="589.8" stroke="#1a1a1a" stroke-width="1.0" /><polyline points="294.2,589.8 330.2,524.6" fill="none" stroke="#1a1a1a" stroke-width="1.05"/>
<text x="447.2" y="473.2" font-size="9" text-anchor="start" font-weight="normal" fill="#333"  textLength="40.5" lengthAdjust="spacingAndGlyphs">阀体(红色)</text><line x1="434.3" y1="475.2" x2="487.3" y2="475.2" stroke="#1a1a1a" stroke-width="1.0" /><polyline points="434.3,475.2 412.9,515.8" fill="none" stroke="#1a1a1a" stroke-width="1.05"/>
<text x="462.4" y="547.6" font-size="9" text-anchor="start" font-weight="normal" fill="#333" >连接螺纹</text><line x1="458.7" y1="550.1" x2="497.3" y2="550.1" stroke="#1a1a1a" stroke-width="1.0" /><polyline points="458.7,550.1 447.2,524.4" fill="none" stroke="#1a1a1a" stroke-width="1.05"/>
<rect x="550.4" y="533" width="24.3" height="6.5" fill="#e2e2e2" stroke="#222" stroke-width="0.9"/>
<rect x="550.4" y="490.3" width="24.3" height="19.5" rx="1.5" fill="#e2e2e2" stroke="#222" stroke-width="1"/>
<rect x="551.6" y="478.7" width="21.4" height="9.6" fill="#ececec" stroke="#222" stroke-width="1"/>
<rect x="551.6" y="487.8" width="21.4" height="2.6" fill="#222"/>
<polygon points="562.4,507.9 575.5,514.9 575.5,530.4 562.4,538 549,530.4 549,514.9" fill="#e4e4e4" stroke="#222" stroke-width="1.1"/>
<circle cx="562.4" cy="522.8" r="12" fill="#f4f4f4" stroke="#222" stroke-width="1.6"/>
<circle cx="562.4" cy="522.8" r="9" fill="#dcdcdc" stroke="#333" stroke-width="0.9"/>
<circle cx="562.4" cy="522.8" r="5" fill="#fff" stroke="#222" stroke-width="1"/>
<circle cx="562.4" cy="522.8" r="2" fill="#fff" stroke="#333" stroke-width="0.8"/>
<line x1="562.4" y1="474.3" x2="562.4" y2="541" stroke="#222" stroke-width="0.8" />
<line x1="545.5" y1="522.8" x2="579" y2="522.8" stroke="#222" stroke-width="0.8" /><line x1="546.5" y1="532.2" x2="578" y2="532.2" stroke="#222" stroke-width="0.8" />
<line x1="550.4" y1="539" x2="550.4" y2="558" stroke="#222" stroke-width="0.8" /><line x1="574.7" y1="539" x2="574.7" y2="558" stroke="#222" stroke-width="0.8" />
<line x1="550.6" y1="556.1" x2="574.5" y2="556.1" stroke="#1a1a1a" stroke-width="1.0" /><polygon points="550.6,556.1 554.8000000000001,554.6 554.8000000000001,557.6" fill="#222"/><polygon points="574.5,556.1 570.3,554.6 570.3,557.6" fill="#222"/>
<text x="562.4" y="553.6" font-size="10.4" text-anchor="middle" font-weight="bold" fill="#111" >W</text>
</svg>
</body></html>
